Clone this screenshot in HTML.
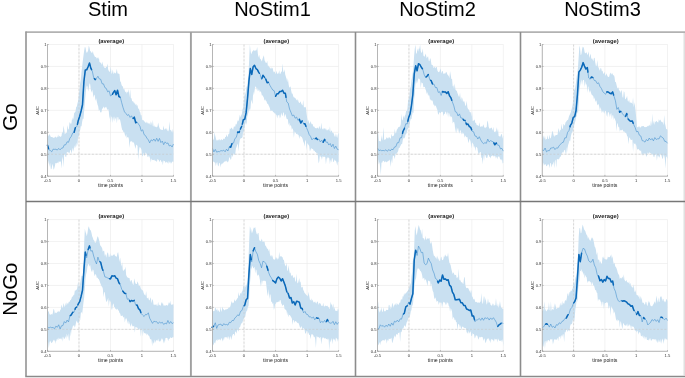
<!DOCTYPE html>
<html><head><meta charset="utf-8"><style>
html,body{margin:0;padding:0;background:#fff;}
body{width:685px;height:378px;overflow:hidden;}
svg{display:block;will-change:transform;filter:blur(0.3px);}
text{font-family:"Liberation Sans",sans-serif;}
.tl text{font-size:4.15px;fill:#333;}
.xl{font-size:5.2px;fill:#222;}
.yl{font-size:4.1px;fill:#222;}
.tt{font-size:5.8px;font-weight:bold;fill:#222;}
.ct{font-size:20px;fill:#000;}
</style></head><body>
<svg width="685" height="378" viewBox="0 0 685 378">
<rect width="685" height="378" fill="#fff"/>
<path d="M47.50 44.50V176.20M79.00 44.50V176.20M110.50 44.50V176.20M142.00 44.50V176.20M173.50 44.50V176.20M47.50 176.20H173.50M47.50 154.25H173.50M47.50 132.30H173.50M47.50 110.35H173.50M47.50 88.40H173.50M47.50 66.45H173.50M47.50 44.50H173.50" stroke="#e9e9e9" stroke-width="0.6" fill="none"/>
<polygon points="47.50,135.28 48.17,135.04 48.83,136.51 49.50,133.84 50.17,135.47 50.83,136.96 51.50,136.98 52.17,137.02 52.83,137.51 53.50,137.65 54.17,138.00 54.83,137.10 55.50,136.59 56.17,137.86 56.83,137.26 57.50,136.97 58.17,134.45 58.83,137.35 59.50,135.83 60.17,136.76 60.83,136.73 61.50,136.08 62.17,131.58 62.83,133.49 63.50,125.43 64.17,129.29 64.83,134.45 65.50,133.33 66.17,133.05 66.83,132.38 67.50,125.03 68.17,128.64 68.83,129.83 69.50,122.16 70.17,122.64 70.83,124.18 71.50,122.91 72.17,117.35 72.83,120.27 73.50,118.11 74.17,112.92 74.83,112.47 75.50,111.47 76.17,107.08 76.83,106.47 77.50,103.28 78.17,100.63 78.83,94.64 79.50,89.22 80.17,83.16 80.83,79.44 81.50,72.08 82.17,66.14 82.83,60.71 83.50,55.44 84.17,50.58 84.83,46.89 85.50,47.42 86.17,51.60 86.83,52.98 87.50,51.99 88.17,50.35 88.83,45.58 89.50,47.67 90.17,51.02 90.83,51.44 91.50,52.86 92.17,52.93 92.83,50.96 93.50,53.89 94.17,55.26 94.83,56.77 95.50,57.01 96.17,57.34 96.83,58.68 97.50,57.23 98.17,59.33 98.83,56.90 99.50,62.02 100.17,62.60 100.83,62.79 101.50,65.09 102.17,61.58 102.83,64.28 103.50,66.31 104.17,67.81 104.83,67.47 105.50,68.18 106.17,67.07 106.83,66.70 107.50,63.47 108.17,69.53 108.83,70.96 109.50,71.93 110.17,71.00 110.83,66.43 111.50,73.99 112.17,72.65 112.83,69.55 113.50,74.04 114.17,73.32 114.83,72.33 115.50,73.65 116.17,72.15 116.83,68.83 117.50,73.21 118.17,73.83 118.83,73.42 119.50,74.30 120.17,81.33 120.83,82.00 121.50,84.71 122.17,86.19 122.83,86.17 123.50,89.46 124.17,88.50 124.83,90.77 125.50,92.33 126.17,91.62 126.83,93.67 127.50,91.60 128.17,92.52 128.83,89.00 129.50,97.53 130.17,89.10 130.83,97.92 131.50,98.29 132.17,101.18 132.83,101.20 133.50,101.65 134.17,103.93 134.83,102.24 135.50,105.35 136.17,103.75 136.83,106.01 137.50,105.04 138.17,109.07 138.83,108.29 139.50,111.33 140.17,111.99 140.83,115.44 141.50,115.10 142.17,119.68 142.83,120.34 143.50,120.21 144.17,121.08 144.83,122.11 145.50,122.40 146.17,123.35 146.83,121.55 147.50,123.05 148.17,123.98 148.83,122.80 149.50,123.55 150.17,125.15 150.83,121.28 151.50,123.31 152.17,126.26 152.83,119.64 153.50,126.87 154.17,125.21 154.83,127.11 155.50,126.50 156.17,127.62 156.83,126.80 157.50,126.80 158.17,122.41 158.83,125.83 159.50,128.09 160.17,129.25 160.83,129.56 161.50,129.77 162.17,130.03 162.83,130.07 163.50,125.58 164.17,128.91 164.83,129.81 165.50,128.12 166.17,130.01 166.83,127.95 167.50,130.74 168.17,131.56 168.83,129.87 169.50,121.18 170.17,130.41 170.83,129.72 171.50,131.08 172.17,132.75 172.83,128.65 173.50,133.02 173.50,161.59 172.83,162.07 172.17,161.33 171.50,163.81 170.83,161.48 170.17,163.66 169.50,161.21 168.83,163.94 168.17,160.67 167.50,163.38 166.83,161.39 166.17,162.46 165.50,162.84 164.83,161.12 164.17,161.31 163.50,160.30 162.83,165.22 162.17,161.01 161.50,162.54 160.83,160.11 160.17,160.32 159.50,162.28 158.83,160.36 158.17,159.55 157.50,159.10 156.83,162.16 156.17,160.79 155.50,160.84 154.83,160.70 154.17,159.47 153.50,160.13 152.83,159.67 152.17,160.34 151.50,158.35 150.83,162.44 150.17,158.74 149.50,156.87 148.83,155.34 148.17,157.13 147.50,156.78 146.83,153.45 146.17,153.65 145.50,152.33 144.83,155.71 144.17,155.57 143.50,152.60 142.83,155.78 142.17,156.53 141.50,149.85 140.83,148.36 140.17,147.19 139.50,147.19 138.83,152.12 138.17,160.24 137.50,145.87 136.83,145.14 136.17,144.62 135.50,148.98 134.83,146.25 134.17,143.53 133.50,142.55 132.83,141.47 132.17,142.73 131.50,140.74 130.83,141.86 130.17,141.24 129.50,148.11 128.83,138.81 128.17,136.97 127.50,137.06 126.83,138.39 126.17,133.99 125.50,136.92 124.83,134.59 124.17,132.03 123.50,132.36 122.83,130.62 122.17,129.63 121.50,126.97 120.83,123.36 120.17,120.20 119.50,118.77 118.83,120.43 118.17,117.04 117.50,117.17 116.83,123.47 116.17,116.38 115.50,119.85 114.83,116.35 114.17,121.72 113.50,116.28 112.83,122.92 112.17,117.59 111.50,116.28 110.83,122.99 110.17,115.01 109.50,119.32 108.83,111.82 108.17,109.02 107.50,110.02 106.83,108.45 106.17,106.75 105.50,107.04 104.83,108.66 104.17,107.23 103.50,106.62 102.83,109.07 102.17,107.91 101.50,111.88 100.83,112.83 100.17,111.65 99.50,109.46 98.83,110.95 98.17,106.19 97.50,104.56 96.83,101.46 96.17,98.36 95.50,101.11 94.83,95.70 94.17,94.62 93.50,97.65 92.83,92.84 92.17,89.50 91.50,92.66 90.83,89.85 90.17,84.20 89.50,83.30 88.83,87.98 88.17,91.77 87.50,86.71 86.83,85.38 86.17,88.46 85.50,95.41 84.83,102.38 84.17,110.81 83.50,119.08 82.83,118.47 82.17,121.84 81.50,126.38 80.83,126.09 80.17,130.37 79.50,131.28 78.83,137.42 78.17,135.67 77.50,143.49 76.83,146.85 76.17,142.46 75.50,146.83 74.83,148.14 74.17,145.26 73.50,152.03 72.83,147.82 72.17,150.44 71.50,153.99 70.83,149.82 70.17,150.62 69.50,153.65 68.83,151.83 68.17,153.32 67.50,151.74 66.83,152.21 66.17,157.17 65.50,156.68 64.83,153.97 64.17,154.89 63.50,167.50 62.83,156.45 62.17,159.81 61.50,168.45 60.83,161.30 60.17,161.87 59.50,161.83 58.83,161.24 58.17,163.41 57.50,162.16 56.83,163.40 56.17,162.90 55.50,163.02 54.83,166.27 54.17,168.79 53.50,169.72 52.83,163.72 52.17,165.73 51.50,168.89 50.83,169.33 50.17,162.82 49.50,166.91 48.83,160.18 48.17,164.24 47.50,157.91" fill="#c9e0f1"/>
<path d="M79.00 44.50V176.20M47.50 154.25H173.50" stroke="#c6c6c6" stroke-width="0.6" stroke-dasharray="2 1.7" fill="none"/>
<path d="M47.50 145.19 L48.90 149.69 L50.30 150.46 L51.70 151.82 L53.10 149.15 L54.50 149.37 L55.90 149.28 L57.30 150.09 L58.70 148.43 L60.10 149.83 L61.50 148.19 L62.90 147.98 L64.30 144.85 L65.70 144.84 L67.10 141.76 L68.50 142.28 L69.90 138.16 L71.30 136.41 L72.70 132.90 L74.10 132.40 L75.50 127.08 L76.90 126.64 L78.30 120.43 L79.70 116.31 L81.10 110.99 L82.50 104.75 L83.90 81.76 L85.30 69.90 L86.70 69.87 L88.10 66.68 L89.50 62.95 L90.90 68.33 L92.30 71.08 L93.70 77.74 L95.10 79.62 L96.50 78.42 L97.90 76.22 L99.30 78.94 L100.70 79.31 L102.10 83.77 L103.50 83.90 L104.90 87.63 L106.30 88.50 L107.70 91.90 L109.10 90.79 L110.50 96.00 L111.90 95.15 L113.30 92.64 L114.70 90.61 L116.10 94.83 L117.50 90.27 L118.90 96.53 L120.30 97.26 L121.70 102.68 L123.10 107.76 L124.50 111.84 L125.90 113.41 L127.30 115.37 L128.70 114.63 L130.10 117.40 L131.50 115.80 L132.90 118.80 L134.30 117.15 L135.70 122.73 L137.10 121.98 L138.50 124.16 L139.90 126.08 L141.30 131.12 L142.70 129.79 L144.10 134.62 L145.50 135.65 L146.90 138.13 L148.30 139.87 L149.70 142.90 L151.10 139.84 L152.50 140.87 L153.90 139.01 L155.30 141.28 L156.70 138.28 L158.10 141.39 L159.50 138.42 L160.90 142.58 L162.30 141.14 L163.70 144.67 L165.10 141.82 L166.50 143.44 L167.90 142.94 L169.30 146.01 L170.70 145.23 L172.10 147.04 L173.50 143.99" stroke="#3d8ccc" stroke-width="0.55" fill="none" stroke-linejoin="round"/>
<path d="M47.37 145.19 L47.50 145.19 L48.57 148.64" stroke="#0a68b8" stroke-width="1.5" fill="none" stroke-linejoin="round" stroke-linecap="round"/>
<path d="M74.15 132.22 L75.35 127.66" stroke="#0a68b8" stroke-width="1.5" fill="none" stroke-linejoin="round" stroke-linecap="round"/>
<path d="M77.42 124.31 L78.30 120.43 L79.70 116.31 L81.10 110.99 L82.50 104.75 L83.90 81.76 L85.30 69.90 L86.70 69.87 L88.10 66.68 L89.50 62.95 L90.90 68.33 L91.60 69.70" stroke="#0a68b8" stroke-width="1.5" fill="none" stroke-linejoin="round" stroke-linecap="round"/>
<path d="M94.37 78.64 L95.10 79.62 L95.57 79.22" stroke="#0a68b8" stroke-width="1.5" fill="none" stroke-linejoin="round" stroke-linecap="round"/>
<path d="M112.39 94.27 L113.30 92.64 L114.70 90.61 L116.10 94.83 L117.50 90.27 L118.90 96.53 L119.95 97.08" stroke="#0a68b8" stroke-width="1.5" fill="none" stroke-linejoin="round" stroke-linecap="round"/>
<path d="M133.18 118.47 L134.30 117.15 L135.70 122.73 L136.33 122.39" stroke="#0a68b8" stroke-width="1.5" fill="none" stroke-linejoin="round" stroke-linecap="round"/>
<path d="M47.50 44.20V176.20H173.80" stroke="#a6a6a6" stroke-width="0.8" fill="none"/>
<path d="M47.50 176.20v-1.3M79.00 176.20v-1.3M110.50 176.20v-1.3M142.00 176.20v-1.3M173.50 176.20v-1.3M47.50 176.20h1.3M47.50 154.25h1.3M47.50 132.30h1.3M47.50 110.35h1.3M47.50 88.40h1.3M47.50 66.45h1.3M47.50 44.50h1.3" stroke="#888" stroke-width="0.5" fill="none"/>
<g class="tl"><text x="46.60" y="177.70" text-anchor="end">0.4</text><text x="46.60" y="155.75" text-anchor="end">0.5</text><text x="46.60" y="133.80" text-anchor="end">0.6</text><text x="46.60" y="111.85" text-anchor="end">0.7</text><text x="46.60" y="89.90" text-anchor="end">0.8</text><text x="46.60" y="67.95" text-anchor="end">0.9</text><text x="46.60" y="46.00" text-anchor="end">1</text><text x="47.50" y="181.80" text-anchor="middle">-0.5</text><text x="79.00" y="181.80" text-anchor="middle">0</text><text x="110.50" y="181.80" text-anchor="middle">0.5</text><text x="142.00" y="181.80" text-anchor="middle">1</text><text x="173.50" y="181.80" text-anchor="middle">1.5</text></g>
<text class="xl" x="110.50" y="186.50" text-anchor="middle">time points</text>
<text class="yl" transform="translate(39.30 110.35) rotate(-90)" text-anchor="middle">AUC</text>
<text class="tt" x="111.30" y="43.20" text-anchor="middle">(average)</text>
<path d="M212.50 44.50V176.20M244.03 44.50V176.20M275.55 44.50V176.20M307.07 44.50V176.20M338.60 44.50V176.20M212.50 176.20H338.60M212.50 154.25H338.60M212.50 132.30H338.60M212.50 110.35H338.60M212.50 88.40H338.60M212.50 66.45H338.60M212.50 44.50H338.60" stroke="#e9e9e9" stroke-width="0.6" fill="none"/>
<polygon points="212.50,140.19 213.17,139.71 213.83,139.22 214.50,132.30 215.17,135.57 215.84,138.37 216.50,140.84 217.17,139.71 217.84,140.79 218.50,140.10 219.17,138.76 219.84,140.43 220.51,140.29 221.17,139.03 221.84,139.82 222.51,140.29 223.18,139.11 223.84,138.61 224.51,139.22 225.18,137.08 225.84,136.89 226.51,134.22 227.18,137.04 227.85,136.22 228.51,133.87 229.18,133.94 229.85,128.23 230.51,129.20 231.18,127.82 231.85,127.79 232.52,129.20 233.18,129.84 233.85,126.44 234.52,126.57 235.18,126.72 235.85,123.82 236.52,124.77 237.19,122.10 237.85,120.22 238.52,121.29 239.19,118.21 239.86,114.48 240.52,117.39 241.19,115.37 241.86,114.09 242.52,109.35 243.19,107.69 243.86,100.98 244.53,95.10 245.19,94.61 245.86,91.38 246.53,86.41 247.19,86.51 247.86,80.09 248.53,73.50 249.20,59.24 249.86,44.50 250.53,50.73 251.20,54.48 251.86,52.43 252.53,51.28 253.20,50.77 253.87,49.81 254.53,50.99 255.20,50.33 255.87,50.77 256.53,50.08 257.20,46.95 257.87,53.65 258.54,57.68 259.20,54.70 259.87,58.61 260.54,58.89 261.21,60.23 261.87,61.58 262.54,58.67 263.21,56.97 263.87,55.17 264.54,60.28 265.21,61.47 265.88,63.06 266.54,63.11 267.21,60.73 267.88,66.02 268.54,65.47 269.21,67.69 269.88,66.72 270.55,69.12 271.21,67.28 271.88,68.91 272.55,67.46 273.21,70.72 273.88,72.41 274.55,71.32 275.22,73.30 275.88,74.00 276.55,70.58 277.22,73.70 277.89,73.86 278.55,73.24 279.22,70.29 279.89,74.19 280.55,73.57 281.22,71.53 281.89,71.63 282.56,63.50 283.22,71.21 283.89,72.62 284.56,69.28 285.22,74.39 285.89,76.67 286.56,78.73 287.23,82.22 287.89,78.17 288.56,84.11 289.23,87.55 289.89,87.22 290.56,86.15 291.23,90.91 291.90,93.68 292.56,93.56 293.23,96.28 293.90,97.44 294.57,97.50 295.23,98.01 295.90,99.08 296.57,100.09 297.23,100.83 297.90,98.88 298.57,102.01 299.24,102.91 299.90,102.75 300.57,101.15 301.24,103.42 301.90,104.63 302.57,105.49 303.24,100.11 303.91,107.44 304.57,107.33 305.24,106.75 305.91,107.81 306.57,113.76 307.24,118.15 307.91,122.84 308.58,119.60 309.24,123.42 309.91,123.38 310.58,120.89 311.24,123.36 311.91,124.54 312.58,123.66 313.25,126.95 313.91,125.94 314.58,127.28 315.25,128.27 315.92,128.11 316.58,128.44 317.25,127.52 317.92,127.89 318.58,129.09 319.25,125.66 319.92,127.69 320.59,129.19 321.25,122.54 321.92,128.07 322.59,129.35 323.25,129.40 323.92,127.70 324.59,128.62 325.26,129.79 325.92,128.12 326.59,130.31 327.26,130.57 327.92,129.50 328.59,129.32 329.26,131.23 329.93,126.18 330.59,132.61 331.26,130.15 331.93,131.28 332.60,133.03 333.26,132.71 333.93,134.10 334.60,136.50 335.26,136.77 335.93,133.26 336.60,136.50 337.27,138.04 337.93,134.34 338.60,132.79 338.60,162.18 337.93,161.61 337.27,165.75 336.60,162.63 335.93,160.38 335.26,160.96 334.60,159.30 333.93,161.75 333.26,162.04 332.60,158.32 331.93,158.14 331.26,162.46 330.59,159.18 329.93,164.36 329.26,158.26 328.59,157.30 327.92,158.87 327.26,157.04 326.59,159.04 325.92,164.44 325.26,157.30 324.59,156.51 323.92,157.35 323.25,156.52 322.59,156.25 321.92,159.77 321.25,156.92 320.59,156.64 319.92,155.03 319.25,161.21 318.58,163.59 317.92,155.94 317.25,152.81 316.58,153.60 315.92,151.92 315.25,152.26 314.58,150.42 313.91,151.33 313.25,149.44 312.58,148.75 311.91,149.30 311.24,147.67 310.58,149.78 309.91,151.44 309.24,146.28 308.58,144.63 307.91,144.21 307.24,142.72 306.57,150.56 305.91,141.52 305.24,139.68 304.57,146.48 303.91,143.06 303.24,141.57 302.57,138.77 301.90,137.27 301.24,136.82 300.57,136.35 299.90,135.88 299.24,138.93 298.57,134.68 297.90,135.03 297.23,133.53 296.57,134.27 295.90,133.30 295.23,132.12 294.57,131.52 293.90,138.06 293.23,130.35 292.56,127.90 291.90,130.09 291.23,126.33 290.56,124.72 289.89,126.78 289.23,122.50 288.56,125.15 287.89,119.61 287.23,118.93 286.56,118.85 285.89,115.69 285.22,113.68 284.56,117.45 283.89,113.32 283.22,112.02 282.56,116.21 281.89,115.07 281.22,112.51 280.55,116.70 279.89,118.41 279.22,114.53 278.55,115.61 277.89,114.95 277.22,118.45 276.55,114.95 275.88,114.62 275.22,113.31 274.55,113.51 273.88,112.08 273.21,112.51 272.55,110.64 271.88,110.70 271.21,110.61 270.55,111.26 269.88,108.33 269.21,106.51 268.54,105.17 267.88,103.61 267.21,104.05 266.54,101.15 265.88,100.97 265.21,99.16 264.54,100.71 263.87,97.79 263.21,96.46 262.54,95.24 261.87,95.52 261.21,92.58 260.54,91.03 259.87,92.60 259.20,89.40 258.54,91.35 257.87,87.77 257.20,91.55 256.53,88.53 255.87,86.39 255.20,86.71 254.53,90.70 253.87,95.54 253.20,91.32 252.53,104.14 251.86,101.75 251.20,99.55 250.53,107.93 249.86,110.76 249.20,108.75 248.53,111.69 247.86,114.38 247.19,117.08 246.53,125.00 245.86,122.03 245.19,124.21 244.53,127.12 243.86,133.24 243.19,130.53 242.52,137.07 241.86,138.32 241.19,138.12 240.52,138.42 239.86,139.87 239.19,143.47 238.52,151.61 237.85,143.60 237.19,144.97 236.52,146.88 235.85,148.63 235.18,154.66 234.52,154.74 233.85,153.24 233.18,154.77 232.52,157.17 231.85,154.28 231.18,159.14 230.51,159.79 229.85,157.29 229.18,157.73 228.51,161.52 227.85,161.51 227.18,162.41 226.51,160.78 225.84,160.68 225.18,161.71 224.51,161.51 223.84,162.09 223.18,163.19 222.51,163.17 221.84,164.78 221.17,163.28 220.51,167.54 219.84,162.68 219.17,163.14 218.50,166.51 217.84,165.61 217.17,162.02 216.50,162.89 215.84,166.28 215.17,162.50 214.50,162.46 213.83,161.84 213.17,161.55 212.50,164.00" fill="#c9e0f1"/>
<path d="M244.03 44.50V176.20M212.50 154.25H338.60" stroke="#c6c6c6" stroke-width="0.6" stroke-dasharray="2 1.7" fill="none"/>
<path d="M212.50 148.33 L213.90 151.91 L215.30 149.41 L216.70 152.18 L218.10 151.50 L219.51 151.69 L220.91 150.59 L222.31 150.91 L223.71 150.16 L225.11 151.77 L226.51 149.19 L227.91 151.03 L229.31 146.77 L230.71 147.20 L232.12 143.20 L233.52 143.09 L234.92 138.54 L236.32 137.38 L237.72 132.03 L239.12 132.44 L240.52 128.73 L241.92 125.85 L243.32 119.73 L244.73 119.26 L246.13 112.66 L247.53 98.36 L248.93 81.15 L250.33 68.58 L251.73 74.44 L253.13 66.86 L254.53 65.23 L255.93 68.58 L257.34 69.57 L258.74 72.31 L260.14 74.40 L261.54 79.59 L262.94 75.20 L264.34 77.11 L265.74 79.09 L267.14 82.72 L268.54 82.31 L269.95 85.41 L271.35 87.83 L272.75 90.06 L274.15 90.71 L275.55 96.31 L276.95 93.75 L278.35 93.66 L279.75 91.51 L281.15 91.45 L282.56 90.26 L283.96 93.17 L285.36 93.25 L286.76 101.82 L288.16 103.05 L289.56 109.02 L290.96 112.39 L292.36 115.90 L293.76 115.00 L295.17 118.24 L296.57 117.06 L297.97 120.49 L299.37 119.29 L300.77 122.97 L302.17 120.84 L303.57 123.54 L304.97 123.85 L306.37 127.38 L307.78 130.63 L309.18 134.59 L310.58 136.48 L311.98 139.81 L313.38 138.32 L314.78 139.02 L316.18 138.01 L317.58 139.67 L318.98 139.14 L320.39 141.96 L321.79 140.17 L323.19 142.26 L324.59 139.39 L325.99 142.24 L327.39 141.98 L328.79 145.03 L330.19 143.51 L331.59 146.84 L333.00 144.20 L334.40 148.51 L335.80 146.15 L337.20 149.21 L338.60 149.69" stroke="#3d8ccc" stroke-width="0.55" fill="none" stroke-linejoin="round"/>
<path d="M229.96 146.97 L230.71 147.20 L231.92 143.76" stroke="#0a68b8" stroke-width="1.5" fill="none" stroke-linejoin="round" stroke-linecap="round"/>
<path d="M237.59 132.51 L237.72 132.03 L239.12 132.44 L239.49 131.48" stroke="#0a68b8" stroke-width="1.5" fill="none" stroke-linejoin="round" stroke-linecap="round"/>
<path d="M240.40 129.06 L240.52 128.73 L241.60 126.52" stroke="#0a68b8" stroke-width="1.5" fill="none" stroke-linejoin="round" stroke-linecap="round"/>
<path d="M242.32 124.11 L243.32 119.73 L244.73 119.26 L246.13 112.66 L247.53 98.36 L248.93 81.15 L250.33 68.58 L251.73 74.44 L253.13 66.86 L254.53 65.23 L255.93 68.58 L257.34 69.57 L258.74 72.31 L259.41 73.31" stroke="#0a68b8" stroke-width="1.5" fill="none" stroke-linejoin="round" stroke-linecap="round"/>
<path d="M261.93 78.36 L262.94 75.20 L264.34 77.11 L264.58 77.44" stroke="#0a68b8" stroke-width="1.5" fill="none" stroke-linejoin="round" stroke-linecap="round"/>
<path d="M265.71 79.05 L265.74 79.09 L267.14 82.72 L268.36 82.36" stroke="#0a68b8" stroke-width="1.5" fill="none" stroke-linejoin="round" stroke-linecap="round"/>
<path d="M275.55 96.31 L276.95 93.75 L278.35 93.66 L279.75 91.51 L281.15 91.45 L282.56 90.26 L283.96 93.17 L285.36 93.25 L286.02 97.28" stroke="#0a68b8" stroke-width="1.5" fill="none" stroke-linejoin="round" stroke-linecap="round"/>
<path d="M299.32 119.33 L299.37 119.29 L300.77 122.97 L302.16 120.87" stroke="#0a68b8" stroke-width="1.5" fill="none" stroke-linejoin="round" stroke-linecap="round"/>
<path d="M304.05 123.65 L304.97 123.85 L305.94 126.28" stroke="#0a68b8" stroke-width="1.5" fill="none" stroke-linejoin="round" stroke-linecap="round"/>
<path d="M315.46 138.53 L316.18 138.01 L317.35 139.40" stroke="#0a68b8" stroke-width="1.5" fill="none" stroke-linejoin="round" stroke-linecap="round"/>
<path d="M323.09 142.11 L323.19 142.26 L324.59 139.39 L324.98 140.18" stroke="#0a68b8" stroke-width="1.5" fill="none" stroke-linejoin="round" stroke-linecap="round"/>
<path d="M212.50 44.20V176.20H338.90" stroke="#a6a6a6" stroke-width="0.8" fill="none"/>
<path d="M212.50 176.20v-1.3M244.03 176.20v-1.3M275.55 176.20v-1.3M307.07 176.20v-1.3M338.60 176.20v-1.3M212.50 176.20h1.3M212.50 154.25h1.3M212.50 132.30h1.3M212.50 110.35h1.3M212.50 88.40h1.3M212.50 66.45h1.3M212.50 44.50h1.3" stroke="#888" stroke-width="0.5" fill="none"/>
<g class="tl"><text x="211.60" y="177.70" text-anchor="end">0.4</text><text x="211.60" y="155.75" text-anchor="end">0.5</text><text x="211.60" y="133.80" text-anchor="end">0.6</text><text x="211.60" y="111.85" text-anchor="end">0.7</text><text x="211.60" y="89.90" text-anchor="end">0.8</text><text x="211.60" y="67.95" text-anchor="end">0.9</text><text x="211.60" y="46.00" text-anchor="end">1</text><text x="212.50" y="181.80" text-anchor="middle">-0.5</text><text x="244.03" y="181.80" text-anchor="middle">0</text><text x="275.55" y="181.80" text-anchor="middle">0.5</text><text x="307.07" y="181.80" text-anchor="middle">1</text><text x="338.60" y="181.80" text-anchor="middle">1.5</text></g>
<text class="xl" x="275.55" y="186.50" text-anchor="middle">time points</text>
<text class="yl" transform="translate(204.30 110.35) rotate(-90)" text-anchor="middle">AUC</text>
<text class="tt" x="276.35" y="43.20" text-anchor="middle">(average)</text>
<path d="M377.50 44.50V176.20M408.95 44.50V176.20M440.40 44.50V176.20M471.85 44.50V176.20M503.30 44.50V176.20M377.50 176.20H503.30M377.50 154.25H503.30M377.50 132.30H503.30M377.50 110.35H503.30M377.50 88.40H503.30M377.50 66.45H503.30M377.50 44.50H503.30" stroke="#e9e9e9" stroke-width="0.6" fill="none"/>
<polygon points="377.50,134.77 378.17,132.41 378.83,141.21 379.50,141.12 380.16,141.31 380.83,141.47 381.49,134.96 382.16,140.83 382.82,137.03 383.49,126.91 384.16,140.02 384.82,139.60 385.49,139.54 386.15,138.46 386.82,137.06 387.48,138.75 388.15,137.01 388.82,138.73 389.48,136.74 390.15,138.48 390.81,138.52 391.48,133.82 392.14,136.56 392.81,136.00 393.47,135.97 394.14,134.60 394.81,128.80 395.47,133.59 396.14,132.64 396.80,129.67 397.47,129.06 398.13,127.44 398.80,127.08 399.47,126.75 400.13,126.47 400.80,124.11 401.46,113.49 402.13,120.63 402.79,119.50 403.46,115.23 404.12,118.18 404.79,115.64 405.46,114.68 406.12,110.83 406.79,111.31 407.45,108.57 408.12,100.50 408.78,98.42 409.45,95.31 410.11,88.51 410.78,86.56 411.45,80.41 412.11,77.04 412.78,72.68 413.44,66.07 414.11,56.07 414.77,48.70 415.44,44.50 416.11,53.53 416.77,53.42 417.44,48.28 418.10,51.73 418.77,48.44 419.43,48.76 420.10,44.50 420.76,50.99 421.43,52.96 422.10,52.23 422.76,48.58 423.43,55.57 424.09,56.60 424.76,56.48 425.42,53.51 426.09,55.54 426.76,58.44 427.42,57.02 428.09,56.31 428.75,60.65 429.42,61.14 430.08,57.95 430.75,59.45 431.41,64.21 432.08,65.38 432.75,64.80 433.41,67.72 434.08,67.71 434.74,66.62 435.41,68.43 436.07,66.94 436.74,67.08 437.40,70.51 438.07,71.63 438.74,72.25 439.40,71.86 440.07,70.05 440.73,68.42 441.40,73.86 442.06,71.21 442.73,70.93 443.40,73.88 444.06,73.55 444.73,73.44 445.39,73.38 446.06,71.84 446.72,72.45 447.39,74.54 448.05,75.25 448.72,76.04 449.39,78.30 450.05,71.02 450.72,74.94 451.38,79.36 452.05,78.70 452.71,86.53 453.38,85.17 454.04,89.18 454.71,83.34 455.38,89.18 456.04,90.55 456.71,90.69 457.37,92.84 458.04,94.40 458.70,96.56 459.37,96.87 460.04,92.46 460.70,99.84 461.37,96.78 462.03,101.73 462.70,97.49 463.36,102.14 464.03,100.84 464.69,102.77 465.36,105.92 466.03,105.28 466.69,100.68 467.36,107.36 468.02,108.99 468.69,109.49 469.35,111.09 470.02,112.43 470.69,111.66 471.35,116.81 472.02,110.81 472.68,121.07 473.35,121.07 474.01,119.82 474.68,119.86 475.34,123.12 476.01,122.87 476.68,125.17 477.34,125.08 478.01,125.76 478.67,126.07 479.34,122.30 480.00,126.16 480.67,127.10 481.33,125.97 482.00,127.12 482.67,126.33 483.33,124.31 484.00,126.42 484.66,127.70 485.33,128.24 485.99,126.83 486.66,127.41 487.33,120.57 487.99,121.99 488.66,127.08 489.32,128.20 489.99,129.08 490.65,127.91 491.32,127.54 491.98,128.13 492.65,130.81 493.32,126.81 493.98,131.48 494.65,132.14 495.31,131.10 495.98,132.42 496.64,126.88 497.31,132.35 497.98,128.13 498.64,135.96 499.31,136.05 499.97,136.88 500.64,136.07 501.30,133.65 501.97,134.74 502.63,138.83 503.30,134.68 503.30,162.68 502.63,163.55 501.97,158.87 501.30,160.61 500.64,159.42 499.97,158.73 499.31,156.44 498.64,156.69 497.98,156.18 497.31,159.62 496.64,156.14 495.98,158.72 495.31,156.23 494.65,155.59 493.98,157.12 493.32,155.74 492.65,155.52 491.98,155.87 491.32,155.98 490.65,158.39 489.99,156.38 489.32,156.88 488.66,154.58 487.99,154.76 487.33,157.76 486.66,158.02 485.99,157.34 485.33,154.72 484.66,154.61 484.00,161.24 483.33,154.46 482.67,164.53 482.00,158.26 481.33,157.54 480.67,151.97 480.00,152.11 479.34,153.55 478.67,154.45 478.01,152.04 477.34,148.06 476.68,147.29 476.01,146.80 475.34,151.25 474.68,145.77 474.01,147.89 473.35,144.24 472.68,143.18 472.02,142.27 471.35,148.52 470.69,141.97 470.02,139.85 469.35,138.92 468.69,143.32 468.02,140.65 467.36,137.06 466.69,137.14 466.03,137.05 465.36,135.30 464.69,137.87 464.03,134.44 463.36,132.88 462.70,134.04 462.03,131.70 461.37,134.69 460.70,130.20 460.04,130.38 459.37,133.83 458.70,131.51 458.04,127.79 457.37,129.33 456.71,133.60 456.04,126.61 455.38,132.88 454.71,124.43 454.04,121.74 453.38,122.01 452.71,123.46 452.05,117.60 451.38,116.86 450.72,115.64 450.05,117.47 449.39,113.67 448.72,112.50 448.05,117.58 447.39,111.35 446.72,114.91 446.06,111.89 445.39,111.39 444.73,114.35 444.06,113.68 443.40,116.32 442.73,111.84 442.06,111.78 441.40,111.71 440.73,112.98 440.07,113.37 439.40,111.81 438.74,114.32 438.07,114.40 437.40,109.93 436.74,108.47 436.07,106.39 435.41,105.24 434.74,106.38 434.08,104.50 433.41,104.72 432.75,101.19 432.08,100.22 431.41,100.64 430.75,98.93 430.08,100.40 429.42,95.92 428.75,94.22 428.09,96.37 427.42,92.05 426.76,94.12 426.09,90.87 425.42,89.36 424.76,86.82 424.09,87.03 423.43,87.29 422.76,83.19 422.10,83.10 421.43,82.37 420.76,88.37 420.10,79.69 419.43,79.03 418.77,78.22 418.10,79.18 417.44,82.10 416.77,83.66 416.11,80.20 415.44,84.20 414.77,93.31 414.11,99.38 413.44,113.17 412.78,111.97 412.11,115.26 411.45,119.27 410.78,118.64 410.11,121.33 409.45,125.81 408.78,126.68 408.12,128.51 407.45,129.45 406.79,132.46 406.12,134.25 405.46,134.57 404.79,138.68 404.12,137.35 403.46,138.32 402.79,140.04 402.13,143.93 401.46,144.05 400.80,145.27 400.13,146.42 399.47,147.95 398.80,148.05 398.13,151.33 397.47,152.29 396.80,153.88 396.14,153.22 395.47,154.14 394.81,159.31 394.14,156.60 393.47,155.41 392.81,156.21 392.14,163.46 391.48,158.40 390.81,166.88 390.15,161.65 389.48,159.60 388.82,160.46 388.15,161.33 387.48,161.50 386.82,161.68 386.15,162.44 385.49,160.98 384.82,162.52 384.16,161.62 383.49,160.68 382.82,161.08 382.16,162.69 381.49,162.49 380.83,175.01 380.16,167.21 379.50,161.77 378.83,164.50 378.17,159.30 377.50,164.08" fill="#c9e0f1"/>
<path d="M408.95 44.50V176.20M377.50 154.25H503.30" stroke="#c6c6c6" stroke-width="0.6" stroke-dasharray="2 1.7" fill="none"/>
<path d="M377.50 148.09 L378.91 150.62 L380.33 150.09 L381.74 150.71 L383.15 150.45 L384.57 150.76 L385.98 149.72 L387.39 151.35 L388.81 149.51 L390.22 150.93 L391.63 149.10 L393.05 149.75 L394.46 147.02 L395.88 146.63 L397.29 142.74 L398.70 142.62 L400.12 137.78 L401.53 137.80 L402.94 131.49 L404.36 128.56 L405.77 123.69 L407.18 124.00 L408.60 117.86 L410.01 114.03 L411.42 105.84 L412.84 94.53 L414.25 73.94 L415.66 65.82 L417.08 70.88 L418.49 63.73 L419.90 64.69 L421.32 67.25 L422.73 69.24 L424.14 74.45 L425.56 77.45 L426.97 76.27 L428.39 74.50 L429.80 79.83 L431.21 80.71 L432.63 84.27 L434.04 84.18 L435.45 87.66 L436.87 87.55 L438.28 92.41 L439.69 91.75 L441.11 95.53 L442.52 91.53 L443.93 92.07 L445.35 91.88 L446.76 93.41 L448.17 91.70 L449.59 95.91 L451.00 97.93 L452.41 102.04 L453.83 105.86 L455.24 111.67 L456.66 112.31 L458.07 115.98 L459.48 113.89 L460.90 118.09 L462.31 118.01 L463.72 120.20 L465.14 120.51 L466.55 124.44 L467.96 124.09 L469.38 126.62 L470.79 127.42 L472.20 131.32 L473.62 131.80 L475.03 136.10 L476.44 136.34 L477.86 139.02 L479.27 136.69 L480.68 139.80 L482.10 142.15 L483.51 143.74 L484.92 142.63 L486.34 143.31 L487.75 139.10 L489.17 141.95 L490.58 140.61 L491.99 141.37 L493.41 141.90 L494.82 144.82 L496.23 142.92 L497.65 145.18 L499.06 145.23 L500.47 148.92 L501.89 148.37 L503.30 151.14" stroke="#3d8ccc" stroke-width="0.55" fill="none" stroke-linejoin="round"/>
<path d="M402.53 133.31 L402.94 131.49 L404.36 128.56 L404.42 128.34" stroke="#0a68b8" stroke-width="1.5" fill="none" stroke-linejoin="round" stroke-linecap="round"/>
<path d="M407.82 121.24 L408.60 117.86 L410.01 114.03 L411.42 105.84 L412.84 94.53 L414.25 73.94 L415.66 65.82 L417.08 70.88 L418.49 63.73 L419.90 64.69 L421.32 67.25 L422.41 68.79" stroke="#0a68b8" stroke-width="1.5" fill="none" stroke-linejoin="round" stroke-linecap="round"/>
<path d="M426.18 76.93 L426.97 76.27 L428.32 74.58" stroke="#0a68b8" stroke-width="1.5" fill="none" stroke-linejoin="round" stroke-linecap="round"/>
<path d="M430.59 80.32 L431.21 80.71 L432.47 83.88" stroke="#0a68b8" stroke-width="1.5" fill="none" stroke-linejoin="round" stroke-linecap="round"/>
<path d="M442.35 92.01 L442.52 91.53 L443.93 92.07 L445.35 91.88 L446.76 93.41 L448.17 91.70 L449.59 95.91 L451.00 97.93 L451.78 100.21" stroke="#0a68b8" stroke-width="1.5" fill="none" stroke-linejoin="round" stroke-linecap="round"/>
<path d="M463.17 119.35 L463.72 120.20 L465.06 120.49" stroke="#0a68b8" stroke-width="1.5" fill="none" stroke-linejoin="round" stroke-linecap="round"/>
<path d="M466.00 122.91 L466.55 124.44 L467.96 124.09 L469.38 126.62 L470.79 127.42 L471.66 129.82" stroke="#0a68b8" stroke-width="1.5" fill="none" stroke-linejoin="round" stroke-linecap="round"/>
<path d="M493.87 142.85 L494.82 144.82 L496.23 142.92 L496.51 143.36" stroke="#0a68b8" stroke-width="1.5" fill="none" stroke-linejoin="round" stroke-linecap="round"/>
<path d="M377.50 44.20V176.20H503.60" stroke="#a6a6a6" stroke-width="0.8" fill="none"/>
<path d="M377.50 176.20v-1.3M408.95 176.20v-1.3M440.40 176.20v-1.3M471.85 176.20v-1.3M503.30 176.20v-1.3M377.50 176.20h1.3M377.50 154.25h1.3M377.50 132.30h1.3M377.50 110.35h1.3M377.50 88.40h1.3M377.50 66.45h1.3M377.50 44.50h1.3" stroke="#888" stroke-width="0.5" fill="none"/>
<g class="tl"><text x="376.60" y="177.70" text-anchor="end">0.4</text><text x="376.60" y="155.75" text-anchor="end">0.5</text><text x="376.60" y="133.80" text-anchor="end">0.6</text><text x="376.60" y="111.85" text-anchor="end">0.7</text><text x="376.60" y="89.90" text-anchor="end">0.8</text><text x="376.60" y="67.95" text-anchor="end">0.9</text><text x="376.60" y="46.00" text-anchor="end">1</text><text x="377.50" y="181.80" text-anchor="middle">-0.5</text><text x="408.95" y="181.80" text-anchor="middle">0</text><text x="440.40" y="181.80" text-anchor="middle">0.5</text><text x="471.85" y="181.80" text-anchor="middle">1</text><text x="503.30" y="181.80" text-anchor="middle">1.5</text></g>
<text class="xl" x="440.40" y="186.50" text-anchor="middle">time points</text>
<text class="yl" transform="translate(369.30 110.35) rotate(-90)" text-anchor="middle">AUC</text>
<text class="tt" x="441.20" y="43.20" text-anchor="middle">(average)</text>
<path d="M542.30 44.50V176.20M573.60 44.50V176.20M604.90 44.50V176.20M636.20 44.50V176.20M667.50 44.50V176.20M542.30 176.20H667.50M542.30 154.25H667.50M542.30 132.30H667.50M542.30 110.35H667.50M542.30 88.40H667.50M542.30 66.45H667.50M542.30 44.50H667.50" stroke="#e9e9e9" stroke-width="0.6" fill="none"/>
<polygon points="542.30,138.15 542.96,139.48 543.62,135.16 544.29,139.09 544.95,135.60 545.61,140.12 546.27,138.82 546.94,139.61 547.60,134.98 548.26,139.09 548.92,138.94 549.59,134.61 550.25,138.49 550.91,137.91 551.57,134.49 552.24,130.82 552.90,132.10 553.56,135.10 554.22,136.92 554.89,135.15 555.55,135.46 556.21,134.91 556.87,134.96 557.54,134.75 558.20,130.13 558.86,127.97 559.52,132.85 560.19,130.16 560.85,129.68 561.51,123.47 562.17,129.08 562.84,128.48 563.50,123.80 564.16,124.65 564.82,125.67 565.49,122.57 566.15,121.72 566.81,120.65 567.47,120.01 568.13,119.85 568.80,117.06 569.46,115.20 570.12,114.00 570.78,112.27 571.45,109.72 572.11,107.60 572.77,103.97 573.43,96.70 574.10,88.89 574.76,90.33 575.42,86.42 576.08,81.71 576.75,75.96 577.41,73.18 578.07,66.29 578.73,56.09 579.40,45.57 580.06,48.32 580.72,55.28 581.38,54.14 582.05,49.22 582.71,46.66 583.37,46.97 584.03,48.87 584.70,52.51 585.36,53.42 586.02,52.47 586.68,52.58 587.35,54.92 588.01,54.11 588.67,51.14 589.33,58.10 590.00,55.81 590.66,53.50 591.32,59.35 591.98,57.97 592.64,59.39 593.31,61.46 593.97,57.74 594.63,57.91 595.29,62.81 595.96,66.09 596.62,65.70 597.28,60.00 597.94,66.85 598.61,67.59 599.27,69.46 599.93,70.64 600.59,67.79 601.26,68.44 601.92,71.43 602.58,70.55 603.24,73.97 603.91,73.16 604.57,71.85 605.23,75.27 605.89,75.59 606.56,73.37 607.22,75.59 607.88,76.76 608.54,77.05 609.21,76.74 609.87,73.83 610.53,72.55 611.19,74.83 611.86,73.22 612.52,73.58 613.18,75.68 613.84,74.75 614.51,76.96 615.17,82.16 615.83,81.71 616.49,84.69 617.16,87.48 617.82,88.55 618.48,87.27 619.14,91.43 619.80,89.73 620.47,93.29 621.13,89.95 621.79,91.16 622.45,96.76 623.12,97.89 623.78,91.30 624.44,92.20 625.10,99.53 625.77,98.86 626.43,97.77 627.09,95.78 627.75,101.00 628.42,101.65 629.08,99.39 629.74,102.76 630.40,102.27 631.07,103.33 631.73,102.46 632.39,104.24 633.05,97.26 633.72,107.43 634.38,102.17 635.04,106.81 635.70,112.10 636.37,118.93 637.03,127.01 637.69,127.19 638.35,127.29 639.02,125.71 639.68,127.32 640.34,127.79 641.00,126.80 641.67,126.19 642.33,126.23 642.99,125.88 643.65,125.92 644.31,127.20 644.98,126.75 645.64,127.14 646.30,126.95 646.96,126.63 647.63,125.92 648.29,125.56 648.95,126.43 649.61,124.43 650.28,126.36 650.94,120.45 651.60,126.01 652.26,113.48 652.93,125.08 653.59,120.59 654.25,125.06 654.91,120.89 655.58,122.57 656.24,120.65 656.90,121.47 657.56,122.15 658.23,122.53 658.89,119.09 659.55,121.10 660.21,119.52 660.88,120.87 661.54,122.12 662.20,121.72 662.86,122.80 663.53,125.28 664.19,115.05 664.85,122.96 665.51,125.87 666.18,128.96 666.84,129.36 667.50,129.63 667.50,158.92 666.84,156.91 666.18,156.16 665.51,168.61 664.85,158.83 664.19,155.45 663.53,154.92 662.86,158.91 662.20,158.34 661.54,155.70 660.88,154.24 660.21,154.33 659.55,157.49 658.89,157.22 658.23,155.52 657.56,155.49 656.90,160.75 656.24,154.37 655.58,154.72 654.91,154.18 654.25,157.18 653.59,156.65 652.93,153.69 652.26,155.01 651.60,154.21 650.94,153.11 650.28,153.30 649.61,152.61 648.95,152.41 648.29,154.35 647.63,152.26 646.96,154.99 646.30,156.94 645.64,154.35 644.98,153.06 644.31,154.06 643.65,153.28 642.99,156.14 642.33,153.61 641.67,154.91 641.00,150.06 640.34,151.23 639.68,150.39 639.02,149.79 638.35,148.64 637.69,149.53 637.03,149.13 636.37,145.47 635.70,144.47 635.04,143.29 634.38,144.31 633.72,142.13 633.05,152.01 632.39,139.62 631.73,139.94 631.07,139.71 630.40,139.38 629.74,137.29 629.08,138.29 628.42,144.22 627.75,136.81 627.09,135.92 626.43,133.42 625.77,132.72 625.10,132.72 624.44,131.60 623.78,131.71 623.12,130.88 622.45,129.49 621.79,129.91 621.13,130.55 620.47,129.65 619.80,131.80 619.14,127.11 618.48,127.35 617.82,124.13 617.16,122.64 616.49,131.43 615.83,121.45 615.17,119.63 614.51,117.48 613.84,120.08 613.18,115.16 612.52,115.28 611.86,119.36 611.19,112.95 610.53,113.94 609.87,116.97 609.21,113.87 608.54,111.92 607.88,112.21 607.22,116.93 606.56,115.09 605.89,110.95 605.23,110.81 604.57,114.25 603.91,110.07 603.24,113.00 602.58,110.57 601.92,113.25 601.26,109.97 600.59,106.94 599.93,110.40 599.27,106.67 598.61,104.35 597.94,104.35 597.28,105.49 596.62,101.27 595.96,99.91 595.29,102.35 594.63,97.28 593.97,99.51 593.31,96.37 592.64,95.29 591.98,95.26 591.32,93.80 590.66,91.69 590.00,90.04 589.33,92.89 588.67,87.76 588.01,85.94 587.35,93.00 586.68,83.54 586.02,85.44 585.36,81.11 584.70,87.17 584.03,80.23 583.37,79.87 582.71,80.72 582.05,85.00 581.38,79.15 580.72,82.46 580.06,86.05 579.40,90.31 578.73,101.79 578.07,113.85 577.41,111.32 576.75,115.93 576.08,116.98 575.42,120.89 574.76,123.07 574.10,125.85 573.43,127.42 572.77,131.31 572.11,132.37 571.45,133.81 570.78,136.73 570.12,141.53 569.46,140.35 568.80,143.01 568.13,144.98 567.47,148.34 566.81,154.18 566.15,147.01 565.49,154.64 564.82,150.30 564.16,149.71 563.50,152.78 562.84,151.65 562.17,152.91 561.51,153.72 560.85,156.87 560.19,156.46 559.52,158.07 558.86,159.80 558.20,158.66 557.54,159.26 556.87,159.33 556.21,168.07 555.55,159.61 554.89,161.03 554.22,168.30 553.56,161.30 552.90,163.65 552.24,164.76 551.57,167.50 550.91,163.05 550.25,163.27 549.59,168.22 548.92,164.52 548.26,164.45 547.60,164.43 546.94,166.37 546.27,165.90 545.61,164.36 544.95,164.04 544.29,165.38 543.62,162.44 542.96,166.40 542.30,161.43" fill="#c9e0f1"/>
<path d="M573.60 44.50V176.20M542.30 154.25H667.50" stroke="#c6c6c6" stroke-width="0.6" stroke-dasharray="2 1.7" fill="none"/>
<path d="M542.30 150.13 L543.71 150.53 L545.11 148.01 L546.52 151.86 L547.93 150.59 L549.33 150.70 L550.74 148.05 L552.15 147.98 L553.55 147.18 L554.96 149.57 L556.37 147.92 L557.77 148.14 L559.18 145.57 L560.59 144.35 L561.99 142.62 L563.40 142.21 L564.81 137.86 L566.21 137.89 L567.62 132.30 L569.03 130.47 L570.43 125.28 L571.84 123.04 L573.25 117.39 L574.66 116.66 L576.06 110.52 L577.47 94.21 L578.88 72.06 L580.28 70.11 L581.69 67.24 L583.10 62.60 L584.50 66.10 L585.91 69.09 L587.32 67.49 L588.72 78.01 L590.13 79.24 L591.54 76.91 L592.94 77.61 L594.35 80.47 L595.76 80.79 L597.16 83.59 L598.57 82.81 L599.98 86.49 L601.38 88.40 L602.79 91.70 L604.20 93.03 L605.60 94.26 L607.01 91.68 L608.42 92.15 L609.82 93.26 L611.23 93.80 L612.64 91.86 L614.04 96.36 L615.45 100.81 L616.86 109.39 L618.26 107.41 L619.67 112.23 L621.08 111.15 L622.48 113.79 L623.89 115.33 L625.30 117.24 L626.70 113.55 L628.11 119.09 L629.52 120.55 L630.92 121.33 L632.33 120.93 L633.74 124.71 L635.14 127.52 L636.55 131.83 L637.96 131.37 L639.37 135.19 L640.77 135.94 L642.18 140.61 L643.59 141.01 L644.99 142.13 L646.40 139.49 L647.81 140.94 L649.21 138.03 L650.62 140.06 L652.03 138.49 L653.43 140.89 L654.84 137.57 L656.25 139.50 L657.65 138.75 L659.06 138.89 L660.47 135.84 L661.87 137.14 L663.28 138.10 L664.69 141.31 L666.09 141.43 L667.50 143.30" stroke="#3d8ccc" stroke-width="0.55" fill="none" stroke-linejoin="round"/>
<path d="M570.03 126.76 L570.43 125.28 L571.84 123.04 L573.25 117.39 L574.66 116.66 L576.06 110.52 L577.47 94.21 L578.88 72.06 L580.28 70.11 L581.69 67.24 L583.10 62.60 L584.50 66.10 L585.91 69.09 L587.32 67.49 L587.94 72.12" stroke="#0a68b8" stroke-width="1.5" fill="none" stroke-linejoin="round" stroke-linecap="round"/>
<path d="M590.94 77.90 L591.54 76.91 L592.88 77.58" stroke="#0a68b8" stroke-width="1.5" fill="none" stroke-linejoin="round" stroke-linecap="round"/>
<path d="M606.84 91.99 L607.01 91.68 L608.42 92.15 L609.82 93.26 L611.23 93.80 L612.64 91.86 L613.60 94.95" stroke="#0a68b8" stroke-width="1.5" fill="none" stroke-linejoin="round" stroke-linecap="round"/>
<path d="M619.42 111.38 L619.67 112.23 L620.74 111.41" stroke="#0a68b8" stroke-width="1.5" fill="none" stroke-linejoin="round" stroke-linecap="round"/>
<path d="M625.68 116.23 L626.70 113.55 L627.00 114.70" stroke="#0a68b8" stroke-width="1.5" fill="none" stroke-linejoin="round" stroke-linecap="round"/>
<path d="M628.12 119.10 L629.52 120.55 L630.92 121.33 L632.33 120.93 L633.20 123.25" stroke="#0a68b8" stroke-width="1.5" fill="none" stroke-linejoin="round" stroke-linecap="round"/>
<path d="M542.30 44.20V176.20H667.80" stroke="#a6a6a6" stroke-width="0.8" fill="none"/>
<path d="M542.30 176.20v-1.3M573.60 176.20v-1.3M604.90 176.20v-1.3M636.20 176.20v-1.3M667.50 176.20v-1.3M542.30 176.20h1.3M542.30 154.25h1.3M542.30 132.30h1.3M542.30 110.35h1.3M542.30 88.40h1.3M542.30 66.45h1.3M542.30 44.50h1.3" stroke="#888" stroke-width="0.5" fill="none"/>
<g class="tl"><text x="541.40" y="177.70" text-anchor="end">0.4</text><text x="541.40" y="155.75" text-anchor="end">0.5</text><text x="541.40" y="133.80" text-anchor="end">0.6</text><text x="541.40" y="111.85" text-anchor="end">0.7</text><text x="541.40" y="89.90" text-anchor="end">0.8</text><text x="541.40" y="67.95" text-anchor="end">0.9</text><text x="541.40" y="46.00" text-anchor="end">1</text><text x="542.30" y="181.80" text-anchor="middle">-0.5</text><text x="573.60" y="181.80" text-anchor="middle">0</text><text x="604.90" y="181.80" text-anchor="middle">0.5</text><text x="636.20" y="181.80" text-anchor="middle">1</text><text x="667.50" y="181.80" text-anchor="middle">1.5</text></g>
<text class="xl" x="604.90" y="186.50" text-anchor="middle">time points</text>
<text class="yl" transform="translate(534.10 110.35) rotate(-90)" text-anchor="middle">AUC</text>
<text class="tt" x="605.70" y="43.20" text-anchor="middle">(average)</text>
<path d="M47.50 219.60V351.30M79.00 219.60V351.30M110.50 219.60V351.30M142.00 219.60V351.30M173.50 219.60V351.30M47.50 351.30H173.50M47.50 329.35H173.50M47.50 307.40H173.50M47.50 285.45H173.50M47.50 263.50H173.50M47.50 241.55H173.50M47.50 219.60H173.50" stroke="#e9e9e9" stroke-width="0.6" fill="none"/>
<polygon points="47.50,314.41 48.17,311.05 48.83,311.75 49.50,314.14 50.17,314.77 50.83,314.42 51.50,314.07 52.17,314.76 52.83,313.09 53.50,308.67 54.17,309.65 54.83,313.73 55.50,312.29 56.17,313.15 56.83,312.47 57.50,312.00 58.17,310.76 58.83,311.95 59.50,311.74 60.17,310.32 60.83,309.27 61.50,304.59 62.17,306.84 62.83,308.28 63.50,303.03 64.17,305.37 64.83,307.22 65.50,304.27 66.17,302.31 66.83,305.58 67.50,302.90 68.17,303.75 68.83,301.78 69.50,301.88 70.17,300.13 70.83,300.11 71.50,298.57 72.17,296.08 72.83,297.25 73.50,294.81 74.17,294.99 74.83,290.58 75.50,290.86 76.17,289.17 76.83,290.22 77.50,286.20 78.17,281.59 78.83,287.53 79.50,285.43 80.17,283.49 80.83,279.19 81.50,275.78 82.17,275.86 82.83,276.06 83.50,261.91 84.17,243.45 84.83,228.70 85.50,231.82 86.17,233.80 86.83,236.18 87.50,232.79 88.17,227.95 88.83,226.32 89.50,228.72 90.17,230.03 90.83,230.40 91.50,232.95 92.17,236.16 92.83,237.73 93.50,239.93 94.17,240.51 94.83,242.38 95.50,242.81 96.17,241.40 96.83,238.90 97.50,236.30 98.17,236.93 98.83,239.19 99.50,241.68 100.17,245.27 100.83,246.01 101.50,246.98 102.17,248.31 102.83,251.87 103.50,250.84 104.17,250.80 104.83,255.89 105.50,253.84 106.17,257.85 106.83,254.69 107.50,252.22 108.17,253.16 108.83,257.30 109.50,256.76 110.17,253.08 110.83,256.85 111.50,255.37 112.17,255.79 112.83,255.49 113.50,254.80 114.17,254.07 114.83,255.40 115.50,256.02 116.17,256.81 116.83,256.40 117.50,253.07 118.17,252.25 118.83,256.29 119.50,262.09 120.17,257.47 120.83,262.80 121.50,266.73 122.17,262.08 122.83,270.24 123.50,270.92 124.17,269.06 124.83,269.96 125.50,266.42 126.17,275.04 126.83,276.49 127.50,277.58 128.17,277.86 128.83,278.02 129.50,278.06 130.17,281.98 130.83,280.30 131.50,279.90 132.17,282.29 132.83,284.35 133.50,285.01 134.17,278.35 134.83,281.36 135.50,283.61 136.17,284.10 136.83,284.05 137.50,281.22 138.17,283.01 138.83,285.65 139.50,285.86 140.17,285.91 140.83,288.58 141.50,289.36 142.17,290.86 142.83,289.80 143.50,292.49 144.17,294.24 144.83,294.92 145.50,295.66 146.17,291.04 146.83,297.87 147.50,298.58 148.17,297.19 148.83,299.69 149.50,300.53 150.17,298.75 150.83,297.31 151.50,303.23 152.17,300.16 152.83,298.91 153.50,304.21 154.17,305.33 154.83,304.15 155.50,304.93 156.17,303.89 156.83,305.66 157.50,305.70 158.17,301.74 158.83,305.71 159.50,304.42 160.17,305.76 160.83,305.15 161.50,301.63 162.17,304.20 162.83,302.16 163.50,305.47 164.17,305.80 164.83,305.19 165.50,305.71 166.17,305.08 166.83,305.32 167.50,305.85 168.17,304.77 168.83,302.24 169.50,303.70 170.17,300.81 170.83,303.97 171.50,305.09 172.17,304.24 172.83,304.74 173.50,304.02 173.50,337.41 172.83,336.84 172.17,337.88 171.50,337.97 170.83,337.77 170.17,337.36 169.50,339.04 168.83,338.94 168.17,341.24 167.50,338.28 166.83,337.78 166.17,337.89 165.50,337.96 164.83,343.27 164.17,340.10 163.50,343.67 162.83,338.31 162.17,340.07 161.50,338.07 160.83,341.74 160.17,340.33 159.50,341.69 158.83,341.17 158.17,338.45 157.50,340.73 156.83,340.70 156.17,339.66 155.50,342.92 154.83,339.42 154.17,342.82 153.50,343.67 152.83,340.68 152.17,346.25 151.50,339.69 150.83,339.09 150.17,339.53 149.50,336.73 148.83,335.61 148.17,335.43 147.50,333.53 146.83,335.57 146.17,333.21 145.50,333.83 144.83,332.66 144.17,333.50 143.50,330.43 142.83,336.50 142.17,329.62 141.50,329.56 140.83,336.86 140.17,328.39 139.50,328.66 138.83,329.85 138.17,329.57 137.50,327.72 136.83,327.86 136.17,327.02 135.50,326.95 134.83,332.68 134.17,325.78 133.50,326.17 132.83,326.50 132.17,325.43 131.50,323.03 130.83,326.96 130.17,325.11 129.50,323.48 128.83,320.51 128.17,324.49 127.50,321.97 126.83,319.43 126.17,318.09 125.50,318.92 124.83,322.44 124.17,316.52 123.50,317.81 122.83,316.21 122.17,315.28 121.50,315.92 120.83,315.90 120.17,313.45 119.50,312.90 118.83,310.76 118.17,310.32 117.50,308.50 116.83,310.26 116.17,308.39 115.50,309.30 114.83,307.02 114.17,307.02 113.50,303.20 112.83,304.64 112.17,309.53 111.50,309.62 110.83,300.51 110.17,302.58 109.50,299.50 108.83,306.82 108.17,297.72 107.50,299.88 106.83,301.47 106.17,301.79 105.50,297.69 104.83,292.75 104.17,291.79 103.50,297.30 102.83,288.76 102.17,286.69 101.50,286.28 100.83,284.39 100.17,282.64 99.50,280.85 98.83,279.27 98.17,278.65 97.50,277.61 96.83,278.12 96.17,274.97 95.50,273.63 94.83,276.27 94.17,274.31 93.50,270.39 92.83,269.17 92.17,271.67 91.50,271.46 90.83,268.90 90.17,265.00 89.50,266.65 88.83,263.61 88.17,264.81 87.50,266.39 86.83,271.54 86.17,274.24 85.50,278.55 84.83,288.30 84.17,297.57 83.50,302.16 82.83,308.37 82.17,313.98 81.50,311.71 80.83,313.31 80.17,320.13 79.50,318.12 78.83,323.14 78.17,322.65 77.50,322.87 76.83,320.52 76.17,322.02 75.50,325.15 74.83,327.80 74.17,325.17 73.50,325.51 72.83,326.19 72.17,328.80 71.50,329.15 70.83,336.87 70.17,330.69 69.50,340.70 68.83,340.30 68.17,333.28 67.50,337.66 66.83,333.49 66.17,338.95 65.50,336.09 64.83,338.39 64.17,338.92 63.50,336.49 62.83,341.72 62.17,336.62 61.50,339.39 60.83,339.10 60.17,338.17 59.50,339.17 58.83,337.62 58.17,340.32 57.50,338.35 56.83,341.56 56.17,338.80 55.50,343.95 54.83,339.39 54.17,341.57 53.50,339.55 52.83,341.47 52.17,342.60 51.50,343.23 50.83,341.88 50.17,340.40 49.50,342.44 48.83,348.14 48.17,342.39 47.50,342.00" fill="#c9e0f1"/>
<path d="M79.00 219.60V351.30M47.50 329.35H173.50" stroke="#c6c6c6" stroke-width="0.6" stroke-dasharray="2 1.7" fill="none"/>
<path d="M47.50 326.66 L48.90 328.00 L50.30 327.18 L51.70 327.65 L53.10 327.47 L54.50 328.87 L55.90 326.11 L57.30 327.29 L58.70 324.78 L60.10 328.93 L61.50 325.81 L62.90 325.58 L64.30 321.56 L65.70 323.07 L67.10 320.09 L68.50 321.97 L69.90 315.89 L71.30 314.81 L72.70 312.25 L74.10 312.13 L75.50 307.86 L76.90 307.07 L78.30 303.92 L79.70 301.65 L81.10 296.42 L82.50 290.23 L83.90 270.30 L85.30 252.06 L86.70 257.72 L88.10 249.65 L89.50 245.86 L90.90 251.18 L92.30 250.59 L93.70 256.08 L95.10 260.60 L96.50 264.00 L97.90 257.14 L99.30 261.28 L100.70 262.41 L102.10 268.18 L103.50 271.76 L104.90 276.93 L106.30 277.25 L107.70 277.97 L109.10 278.60 L110.50 278.89 L111.90 275.83 L113.30 276.12 L114.70 275.74 L116.10 278.17 L117.50 278.71 L118.90 282.79 L120.30 284.65 L121.70 289.21 L123.10 291.55 L124.50 293.17 L125.90 293.62 L127.30 299.29 L128.70 298.84 L130.10 301.67 L131.50 300.45 L132.90 301.07 L134.30 300.35 L135.70 305.18 L137.10 305.09 L138.50 308.65 L139.90 309.81 L141.30 313.72 L142.70 315.16 L144.10 316.55 L145.50 314.44 L146.90 314.73 L148.30 312.79 L149.70 318.21 L151.10 320.79 L152.50 323.35 L153.90 321.23 L155.30 321.71 L156.70 321.68 L158.10 323.65 L159.50 321.90 L160.90 323.10 L162.30 322.26 L163.70 324.47 L165.10 323.23 L166.50 323.92 L167.90 320.45 L169.30 323.53 L170.70 321.51 L172.10 323.60 L173.50 322.65" stroke="#3d8ccc" stroke-width="0.55" fill="none" stroke-linejoin="round"/>
<path d="M70.31 315.58 L71.30 314.81 L72.70 312.25 L72.95 312.23" stroke="#0a68b8" stroke-width="1.5" fill="none" stroke-linejoin="round" stroke-linecap="round"/>
<path d="M75.03 309.29 L75.50 307.86 L76.73 307.16" stroke="#0a68b8" stroke-width="1.5" fill="none" stroke-linejoin="round" stroke-linecap="round"/>
<path d="M77.87 304.90 L78.30 303.92 L79.70 301.65 L81.10 296.42 L82.50 290.23 L83.90 270.30 L85.30 252.06 L86.06 255.11" stroke="#0a68b8" stroke-width="1.5" fill="none" stroke-linejoin="round" stroke-linecap="round"/>
<path d="M88.13 249.55 L89.50 245.86 L90.03 247.86" stroke="#0a68b8" stroke-width="1.5" fill="none" stroke-linejoin="round" stroke-linecap="round"/>
<path d="M99.92 261.77 L100.70 262.41 L102.10 268.18 L102.94 270.33" stroke="#0a68b8" stroke-width="1.5" fill="none" stroke-linejoin="round" stroke-linecap="round"/>
<path d="M109.56 278.69 L110.50 278.89 L111.90 275.83 L113.30 276.12 L114.70 275.74 L116.10 278.17 L117.50 278.71 L118.90 282.79 L119.64 283.77" stroke="#0a68b8" stroke-width="1.5" fill="none" stroke-linejoin="round" stroke-linecap="round"/>
<path d="M122.85 291.13 L123.10 291.55 L124.50 293.17 L125.68 293.55" stroke="#0a68b8" stroke-width="1.5" fill="none" stroke-linejoin="round" stroke-linecap="round"/>
<path d="M129.53 300.51 L130.10 301.67 L131.50 300.45 L132.90 301.07 L134.25 300.38" stroke="#0a68b8" stroke-width="1.5" fill="none" stroke-linejoin="round" stroke-linecap="round"/>
<path d="M136.71 305.11 L137.10 305.09 L138.50 308.65 L139.90 309.81 L140.87 312.51" stroke="#0a68b8" stroke-width="1.5" fill="none" stroke-linejoin="round" stroke-linecap="round"/>
<path d="M47.50 219.30V351.30H173.80" stroke="#a6a6a6" stroke-width="0.8" fill="none"/>
<path d="M47.50 351.30v-1.3M79.00 351.30v-1.3M110.50 351.30v-1.3M142.00 351.30v-1.3M173.50 351.30v-1.3M47.50 351.30h1.3M47.50 329.35h1.3M47.50 307.40h1.3M47.50 285.45h1.3M47.50 263.50h1.3M47.50 241.55h1.3M47.50 219.60h1.3" stroke="#888" stroke-width="0.5" fill="none"/>
<g class="tl"><text x="46.60" y="352.80" text-anchor="end">0.4</text><text x="46.60" y="330.85" text-anchor="end">0.5</text><text x="46.60" y="308.90" text-anchor="end">0.6</text><text x="46.60" y="286.95" text-anchor="end">0.7</text><text x="46.60" y="265.00" text-anchor="end">0.8</text><text x="46.60" y="243.05" text-anchor="end">0.9</text><text x="46.60" y="221.10" text-anchor="end">1</text><text x="47.50" y="356.90" text-anchor="middle">-0.5</text><text x="79.00" y="356.90" text-anchor="middle">0</text><text x="110.50" y="356.90" text-anchor="middle">0.5</text><text x="142.00" y="356.90" text-anchor="middle">1</text><text x="173.50" y="356.90" text-anchor="middle">1.5</text></g>
<text class="xl" x="110.50" y="361.60" text-anchor="middle">time points</text>
<text class="yl" transform="translate(39.30 285.45) rotate(-90)" text-anchor="middle">AUC</text>
<text class="tt" x="111.30" y="218.30" text-anchor="middle">(average)</text>
<path d="M212.50 219.60V351.30M244.03 219.60V351.30M275.55 219.60V351.30M307.07 219.60V351.30M338.60 219.60V351.30M212.50 351.30H338.60M212.50 329.35H338.60M212.50 307.40H338.60M212.50 285.45H338.60M212.50 263.50H338.60M212.50 241.55H338.60M212.50 219.60H338.60" stroke="#e9e9e9" stroke-width="0.6" fill="none"/>
<polygon points="212.50,313.54 213.17,310.75 213.83,311.31 214.50,310.96 215.17,307.33 215.84,308.62 216.50,310.59 217.17,308.43 217.84,311.87 218.50,309.84 219.17,312.19 219.84,311.54 220.51,306.53 221.17,312.07 221.84,310.02 222.51,306.41 223.18,309.59 223.84,309.14 224.51,310.50 225.18,309.64 225.84,309.13 226.51,309.47 227.18,308.74 227.85,309.03 228.51,307.66 229.18,307.29 229.85,307.57 230.51,305.79 231.18,302.77 231.85,301.08 232.52,303.13 233.18,302.90 233.85,302.31 234.52,298.90 235.18,301.49 235.85,300.53 236.52,299.82 237.19,298.33 237.85,298.33 238.52,292.09 239.19,296.20 239.86,294.89 240.52,292.78 241.19,293.75 241.86,291.82 242.52,290.77 243.19,287.70 243.86,283.84 244.53,288.39 245.19,286.95 245.86,285.66 246.53,285.23 247.19,281.92 247.86,275.44 248.53,258.35 249.20,240.95 249.86,226.34 250.53,228.17 251.20,233.45 251.86,228.76 252.53,233.32 253.20,229.34 253.87,227.60 254.53,228.05 255.20,226.99 255.87,230.82 256.53,233.50 257.20,234.87 257.87,232.93 258.54,233.01 259.20,240.00 259.87,240.85 260.54,241.21 261.21,240.20 261.87,238.59 262.54,241.82 263.21,241.88 263.87,241.26 264.54,241.85 265.21,245.39 265.88,245.98 266.54,247.36 267.21,249.27 267.88,248.26 268.54,251.46 269.21,249.10 269.88,254.09 270.55,256.01 271.21,256.86 271.88,254.78 272.55,256.41 273.21,258.91 273.88,259.62 274.55,259.86 275.22,259.04 275.88,256.65 276.55,257.98 277.22,259.84 277.89,258.07 278.55,258.95 279.22,251.74 279.89,257.38 280.55,255.96 281.22,256.28 281.89,256.73 282.56,257.25 283.22,259.88 283.89,259.60 284.56,263.78 285.22,265.30 285.89,266.52 286.56,262.51 287.23,270.25 287.89,270.89 288.56,264.89 289.23,270.23 289.89,273.53 290.56,272.29 291.23,276.56 291.90,275.01 292.56,275.37 293.23,277.53 293.90,277.98 294.57,276.59 295.23,280.69 295.90,281.98 296.57,273.46 297.23,282.61 297.90,283.60 298.57,281.03 299.24,278.01 299.90,282.65 300.57,281.29 301.24,287.15 301.90,287.43 302.57,286.52 303.24,289.98 303.91,291.01 304.57,292.89 305.24,293.53 305.91,294.58 306.57,295.33 307.24,295.49 307.91,296.54 308.58,291.65 309.24,295.99 309.91,299.86 310.58,300.60 311.24,298.30 311.91,301.13 312.58,299.57 313.25,301.75 313.91,302.63 314.58,301.62 315.25,303.17 315.92,301.31 316.58,304.07 317.25,301.23 317.92,302.03 318.58,304.94 319.25,302.70 319.92,303.53 320.59,303.39 321.25,305.83 321.92,305.74 322.59,305.98 323.25,302.70 323.92,306.48 324.59,306.60 325.26,305.22 325.92,306.28 326.59,306.04 327.26,305.46 327.92,306.69 328.59,307.06 329.26,309.01 329.93,308.03 330.59,301.48 331.26,305.17 331.93,303.62 332.60,308.06 333.26,303.28 333.93,309.89 334.60,306.79 335.26,311.06 335.93,310.59 336.60,310.96 337.27,311.32 337.93,308.27 338.60,309.97 338.60,338.15 337.93,341.74 337.27,339.09 336.60,338.49 335.93,337.62 335.26,342.06 334.60,339.16 333.93,339.71 333.26,338.34 332.60,344.16 331.93,337.97 331.26,340.06 330.59,342.60 329.93,338.94 329.26,350.65 328.59,338.16 327.92,340.26 327.26,338.41 326.59,339.13 325.92,338.87 325.26,338.07 324.59,338.85 323.92,337.47 323.25,337.86 322.59,337.60 321.92,339.31 321.25,344.46 320.59,336.96 319.92,337.17 319.25,338.46 318.58,336.69 317.92,337.48 317.25,336.45 316.58,336.33 315.92,347.89 315.25,339.14 314.58,336.38 313.91,337.14 313.25,335.01 312.58,334.56 311.91,334.06 311.24,334.68 310.58,339.17 309.91,334.89 309.24,334.90 308.58,332.10 307.91,334.73 307.24,330.95 306.57,331.06 305.91,333.34 305.24,333.82 304.57,329.69 303.91,328.48 303.24,328.03 302.57,330.04 301.90,327.48 301.24,326.09 300.57,327.97 299.90,327.35 299.24,324.90 298.57,323.14 297.90,322.53 297.23,323.20 296.57,321.68 295.90,321.15 295.23,321.05 294.57,322.90 293.90,320.05 293.23,320.36 292.56,324.90 291.90,318.67 291.23,317.36 290.56,316.17 289.89,314.98 289.23,314.94 288.56,317.35 287.89,311.84 287.23,315.44 286.56,310.94 285.89,309.66 285.22,309.40 284.56,309.12 283.89,304.76 283.22,304.65 282.56,305.93 281.89,304.50 281.22,303.15 280.55,299.97 279.89,300.04 279.22,301.92 278.55,301.58 277.89,302.06 277.22,302.26 276.55,302.06 275.88,304.11 275.22,303.62 274.55,307.84 273.88,310.12 273.21,302.90 272.55,304.06 271.88,301.48 271.21,302.22 270.55,294.83 269.88,294.31 269.21,299.24 268.54,288.75 267.88,296.20 267.21,292.98 266.54,287.23 265.88,281.62 265.21,280.80 264.54,280.67 263.87,280.85 263.21,280.67 262.54,280.72 261.87,285.54 261.21,279.71 260.54,287.01 259.87,279.74 259.20,276.13 258.54,274.65 257.87,274.49 257.20,276.17 256.53,270.43 255.87,269.00 255.20,273.58 254.53,266.78 253.87,267.79 253.20,268.51 252.53,265.43 251.86,267.62 251.20,269.22 250.53,276.69 249.86,284.41 249.20,296.90 248.53,306.11 247.86,306.96 247.19,310.58 246.53,311.10 245.86,313.07 245.19,317.12 244.53,316.43 243.86,318.75 243.19,319.77 242.52,322.31 241.86,323.35 241.19,323.54 240.52,325.57 239.86,328.02 239.19,326.78 238.52,331.68 237.85,330.31 237.19,329.79 236.52,333.81 235.85,331.60 235.18,331.78 234.52,336.22 233.85,333.91 233.18,333.90 232.52,335.11 231.85,337.46 231.18,339.94 230.51,335.89 229.85,337.24 229.18,340.21 228.51,336.53 227.85,336.60 227.18,339.08 226.51,337.00 225.84,337.21 225.18,337.34 224.51,337.19 223.84,340.63 223.18,338.08 222.51,341.64 221.84,338.53 221.17,338.22 220.51,340.78 219.84,338.67 219.17,339.99 218.50,339.71 217.84,339.03 217.17,341.21 216.50,339.61 215.84,340.87 215.17,343.46 214.50,342.13 213.83,344.05 213.17,345.62 212.50,342.60" fill="#c9e0f1"/>
<path d="M244.03 219.60V351.30M212.50 329.35H338.60" stroke="#c6c6c6" stroke-width="0.6" stroke-dasharray="2 1.7" fill="none"/>
<path d="M212.50 327.22 L213.90 326.03 L215.30 322.76 L216.70 328.36 L218.10 324.89 L219.51 324.49 L220.91 324.09 L222.31 326.01 L223.71 323.68 L225.11 324.75 L226.51 324.44 L227.91 325.15 L229.31 322.32 L230.71 322.63 L232.12 320.45 L233.52 320.64 L234.92 317.93 L236.32 316.74 L237.72 314.81 L239.12 315.66 L240.52 311.34 L241.92 310.60 L243.32 306.38 L244.73 305.19 L246.13 299.70 L247.53 298.43 L248.93 274.08 L250.33 254.60 L251.73 261.84 L253.13 250.97 L254.53 247.69 L255.93 251.81 L257.34 254.25 L258.74 260.52 L260.14 263.46 L261.54 267.81 L262.94 261.16 L264.34 261.95 L265.74 263.11 L267.14 267.17 L268.54 272.13 L269.95 275.80 L271.35 277.92 L272.75 280.54 L274.15 281.53 L275.55 283.03 L276.95 278.64 L278.35 277.05 L279.75 278.24 L281.15 281.00 L282.56 278.73 L283.96 282.18 L285.36 286.07 L286.76 291.66 L288.16 293.45 L289.56 298.07 L290.96 297.48 L292.36 303.06 L293.76 301.67 L295.17 304.97 L296.57 301.26 L297.97 301.60 L299.37 302.25 L300.77 308.06 L302.17 308.48 L303.57 312.85 L304.97 311.43 L306.37 314.23 L307.78 314.62 L309.18 316.95 L310.58 316.92 L311.98 318.21 L313.38 316.96 L314.78 319.79 L316.18 317.66 L317.58 318.33 L318.98 318.01 L320.39 322.75 L321.79 321.35 L323.19 322.43 L324.59 320.41 L325.99 322.50 L327.39 319.50 L328.79 322.35 L330.19 323.16 L331.59 323.10 L333.00 321.30 L334.40 324.68 L335.80 321.74 L337.20 324.40 L338.60 322.33" stroke="#3d8ccc" stroke-width="0.55" fill="none" stroke-linejoin="round"/>
<path d="M211.93 327.22 L212.50 327.22 L213.63 326.26" stroke="#0a68b8" stroke-width="1.5" fill="none" stroke-linejoin="round" stroke-linecap="round"/>
<path d="M244.21 305.62 L244.73 305.19 L246.13 299.70 L247.53 298.43 L248.93 274.08 L250.33 254.60 L251.28 259.49" stroke="#0a68b8" stroke-width="1.5" fill="none" stroke-linejoin="round" stroke-linecap="round"/>
<path d="M253.17 250.89 L254.49 247.79" stroke="#0a68b8" stroke-width="1.5" fill="none" stroke-linejoin="round" stroke-linecap="round"/>
<path d="M266.82 266.22 L267.14 267.17 L268.02 270.26" stroke="#0a68b8" stroke-width="1.5" fill="none" stroke-linejoin="round" stroke-linecap="round"/>
<path d="M272.71 280.47 L272.75 280.54 L274.15 281.53 L275.55 283.03 L276.95 278.64 L278.35 277.05 L279.75 278.24 L281.15 281.00 L282.56 278.73 L283.96 282.18 L285.36 286.07 L286.76 291.66 L286.96 291.92" stroke="#0a68b8" stroke-width="1.5" fill="none" stroke-linejoin="round" stroke-linecap="round"/>
<path d="M287.91 293.13 L288.16 293.45 L289.56 298.07 L290.96 297.48 L292.36 303.06 L293.76 301.67 L295.17 304.97 L296.57 301.26 L297.97 301.60 L299.37 302.25 L300.77 308.06 L302.17 308.48 L302.54 309.62" stroke="#0a68b8" stroke-width="1.5" fill="none" stroke-linejoin="round" stroke-linecap="round"/>
<path d="M316.60 317.86 L317.58 318.33 L318.11 318.21" stroke="#0a68b8" stroke-width="1.5" fill="none" stroke-linejoin="round" stroke-linecap="round"/>
<path d="M326.49 321.42 L327.39 319.50 L328.01 320.75" stroke="#0a68b8" stroke-width="1.5" fill="none" stroke-linejoin="round" stroke-linecap="round"/>
<path d="M212.50 219.30V351.30H338.90" stroke="#a6a6a6" stroke-width="0.8" fill="none"/>
<path d="M212.50 351.30v-1.3M244.03 351.30v-1.3M275.55 351.30v-1.3M307.07 351.30v-1.3M338.60 351.30v-1.3M212.50 351.30h1.3M212.50 329.35h1.3M212.50 307.40h1.3M212.50 285.45h1.3M212.50 263.50h1.3M212.50 241.55h1.3M212.50 219.60h1.3" stroke="#888" stroke-width="0.5" fill="none"/>
<g class="tl"><text x="211.60" y="352.80" text-anchor="end">0.4</text><text x="211.60" y="330.85" text-anchor="end">0.5</text><text x="211.60" y="308.90" text-anchor="end">0.6</text><text x="211.60" y="286.95" text-anchor="end">0.7</text><text x="211.60" y="265.00" text-anchor="end">0.8</text><text x="211.60" y="243.05" text-anchor="end">0.9</text><text x="211.60" y="221.10" text-anchor="end">1</text><text x="212.50" y="356.90" text-anchor="middle">-0.5</text><text x="244.03" y="356.90" text-anchor="middle">0</text><text x="275.55" y="356.90" text-anchor="middle">0.5</text><text x="307.07" y="356.90" text-anchor="middle">1</text><text x="338.60" y="356.90" text-anchor="middle">1.5</text></g>
<text class="xl" x="275.55" y="361.60" text-anchor="middle">time points</text>
<text class="yl" transform="translate(204.30 285.45) rotate(-90)" text-anchor="middle">AUC</text>
<text class="tt" x="276.35" y="218.30" text-anchor="middle">(average)</text>
<path d="M377.50 219.60V351.30M408.95 219.60V351.30M440.40 219.60V351.30M471.85 219.60V351.30M503.30 219.60V351.30M377.50 351.30H503.30M377.50 329.35H503.30M377.50 307.40H503.30M377.50 285.45H503.30M377.50 263.50H503.30M377.50 241.55H503.30M377.50 219.60H503.30" stroke="#e9e9e9" stroke-width="0.6" fill="none"/>
<polygon points="377.50,308.02 378.17,301.23 378.83,311.00 379.50,312.83 380.16,309.26 380.83,311.90 381.49,306.78 382.16,312.18 382.82,311.24 383.49,307.35 384.16,311.18 384.82,311.22 385.49,311.30 386.15,309.93 386.82,309.69 387.48,309.96 388.15,309.96 388.82,304.74 389.48,305.03 390.15,309.38 390.81,305.91 391.48,308.52 392.14,302.81 392.81,304.36 393.47,307.98 394.14,304.10 394.81,305.81 395.47,304.22 396.14,302.80 396.80,305.84 397.47,303.28 398.13,304.95 398.80,304.14 399.47,302.47 400.13,302.76 400.80,299.75 401.46,299.22 402.13,299.75 402.79,295.89 403.46,296.71 404.12,292.99 404.79,295.00 405.46,293.45 406.12,292.42 406.79,292.59 407.45,291.02 408.12,290.52 408.78,288.28 409.45,287.31 410.11,283.09 410.78,285.49 411.45,276.80 412.11,272.17 412.78,261.32 413.44,259.74 414.11,249.35 414.77,230.60 415.44,226.03 416.11,232.95 416.77,235.51 417.44,231.21 418.10,227.44 418.77,224.90 419.43,227.24 420.10,229.41 420.76,230.48 421.43,234.94 422.10,228.71 422.76,238.08 423.43,238.37 424.09,238.58 424.76,240.87 425.42,235.51 426.09,240.16 426.76,238.68 427.42,238.27 428.09,238.92 428.75,238.25 429.42,238.11 430.08,242.01 430.75,244.00 431.41,241.40 432.08,245.42 432.75,250.15 433.41,253.63 434.08,256.39 434.74,255.56 435.41,258.36 436.07,256.29 436.74,259.38 437.40,255.43 438.07,260.42 438.74,258.05 439.40,260.99 440.07,261.07 440.73,257.86 441.40,256.44 442.06,260.15 442.73,260.01 443.40,259.36 444.06,254.90 444.73,257.50 445.39,254.20 446.06,256.47 446.72,256.25 447.39,256.56 448.05,252.57 448.72,258.58 449.39,262.79 450.05,263.75 450.72,265.54 451.38,269.08 452.05,271.67 452.71,273.94 453.38,272.18 454.04,273.76 454.71,275.26 455.38,274.88 456.04,274.67 456.71,278.27 457.37,276.75 458.04,279.00 458.70,268.44 459.37,280.52 460.04,279.50 460.70,281.20 461.37,282.57 462.03,281.94 462.70,283.45 463.36,284.11 464.03,278.00 464.69,276.79 465.36,284.91 466.03,287.59 466.69,288.24 467.36,287.80 468.02,288.30 468.69,288.73 469.35,291.64 470.02,289.73 470.69,293.61 471.35,289.38 472.02,296.49 472.68,296.78 473.35,299.70 474.01,298.45 474.68,299.70 475.34,302.34 476.01,301.65 476.68,302.11 477.34,302.98 478.01,302.12 478.67,302.72 479.34,302.98 480.00,301.95 480.67,301.55 481.33,292.93 482.00,302.58 482.67,304.29 483.33,295.58 484.00,303.93 484.66,296.02 485.33,298.98 485.99,300.81 486.66,304.81 487.33,303.05 487.99,298.15 488.66,302.77 489.32,302.47 489.99,302.24 490.65,305.01 491.32,305.18 491.98,306.00 492.65,303.56 493.32,303.74 493.98,306.37 494.65,304.76 495.31,305.16 495.98,297.94 496.64,305.10 497.31,306.47 497.98,303.24 498.64,307.97 499.31,305.15 499.97,301.11 500.64,305.58 501.30,308.04 501.97,307.45 502.63,308.96 503.30,309.12 503.30,346.42 502.63,338.88 501.97,342.18 501.30,340.10 500.64,340.87 499.97,341.08 499.31,340.70 498.64,339.74 497.98,338.32 497.31,342.56 496.64,338.81 495.98,339.52 495.31,339.20 494.65,338.44 493.98,341.75 493.32,340.35 492.65,339.63 491.98,339.34 491.32,339.05 490.65,343.13 489.99,339.08 489.32,341.51 488.66,338.50 487.99,338.36 487.33,339.02 486.66,339.64 485.99,342.33 485.33,342.97 484.66,338.69 484.00,338.59 483.33,340.88 482.67,337.07 482.00,337.14 481.33,336.73 480.67,337.12 480.00,337.79 479.34,336.52 478.67,339.74 478.01,338.20 477.34,335.81 476.68,335.82 476.01,334.93 475.34,337.57 474.68,338.46 474.01,334.09 473.35,334.14 472.68,333.00 472.02,335.71 471.35,336.32 470.69,331.80 470.02,331.61 469.35,333.87 468.69,330.40 468.02,334.02 467.36,332.56 466.69,332.50 466.03,328.51 465.36,328.03 464.69,327.65 464.03,328.31 463.36,327.08 462.70,326.62 462.03,327.05 461.37,330.37 460.70,324.92 460.04,328.43 459.37,325.03 458.70,323.85 458.04,324.87 457.37,330.19 456.71,322.25 456.04,321.95 455.38,319.60 454.71,320.33 454.04,317.64 453.38,317.05 452.71,319.60 452.05,311.74 451.38,309.42 450.72,308.00 450.05,311.90 449.39,306.63 448.72,305.85 448.05,302.77 447.39,302.46 446.72,305.00 446.06,301.82 445.39,305.52 444.73,301.99 444.06,302.64 443.40,301.56 442.73,304.08 442.06,308.06 441.40,302.40 440.73,302.90 440.07,301.92 439.40,302.56 438.74,304.92 438.07,301.28 437.40,300.90 436.74,301.92 436.07,299.76 435.41,297.35 434.74,299.15 434.08,297.31 433.41,292.20 432.75,290.99 432.08,287.92 431.41,283.20 430.75,286.73 430.08,280.91 429.42,281.45 428.75,280.53 428.09,281.03 427.42,286.19 426.76,282.81 426.09,280.35 425.42,278.88 424.76,280.81 424.09,277.62 423.43,278.19 422.76,279.12 422.10,274.95 421.43,272.42 420.76,271.33 420.10,270.63 419.43,269.33 418.77,268.94 418.10,268.09 417.44,269.04 416.77,272.48 416.11,277.96 415.44,279.81 414.77,283.79 414.11,290.09 413.44,298.61 412.78,306.81 412.11,304.00 411.45,309.90 410.78,311.27 410.11,315.13 409.45,317.25 408.78,317.26 408.12,318.64 407.45,321.13 406.79,322.00 406.12,324.42 405.46,327.35 404.79,325.32 404.12,326.08 403.46,328.51 402.79,328.14 402.13,329.94 401.46,332.29 400.80,332.09 400.13,342.11 399.47,332.21 398.80,333.12 398.13,332.83 397.47,334.90 396.80,334.31 396.14,334.16 395.47,337.72 394.81,335.36 394.14,337.10 393.47,338.90 392.81,341.82 392.14,343.15 391.48,337.50 390.81,339.31 390.15,338.19 389.48,339.25 388.82,338.48 388.15,341.15 387.48,339.18 386.82,343.77 386.15,339.65 385.49,339.18 384.82,339.76 384.16,341.12 383.49,339.94 382.82,340.13 382.16,340.40 381.49,341.16 380.83,341.74 380.16,345.09 379.50,342.10 378.83,343.94 378.17,345.40 377.50,341.88" fill="#c9e0f1"/>
<path d="M408.95 219.60V351.30M377.50 329.35H503.30" stroke="#c6c6c6" stroke-width="0.6" stroke-dasharray="2 1.7" fill="none"/>
<path d="M377.50 329.05 L378.91 328.66 L380.33 324.80 L381.74 326.23 L383.15 325.53 L384.57 327.18 L385.98 325.18 L387.39 326.49 L388.81 324.00 L390.22 326.28 L391.63 322.96 L393.05 325.21 L394.46 321.18 L395.88 322.10 L397.29 320.16 L398.70 321.87 L400.12 318.83 L401.53 319.18 L402.94 314.60 L404.36 313.18 L405.77 306.88 L407.18 305.89 L408.60 302.25 L410.01 304.18 L411.42 298.47 L412.84 293.79 L414.25 259.78 L415.66 250.18 L417.08 255.49 L418.49 246.09 L419.90 248.78 L421.32 252.72 L422.73 252.41 L424.14 263.03 L425.56 264.75 L426.97 263.72 L428.39 258.14 L429.80 261.17 L431.21 263.52 L432.63 269.98 L434.04 273.21 L435.45 278.44 L436.87 279.43 L438.28 282.92 L439.69 280.10 L441.11 281.21 L442.52 274.96 L443.93 279.24 L445.35 278.90 L446.76 280.22 L448.17 279.78 L449.59 285.33 L451.00 286.46 L452.41 292.09 L453.83 294.49 L455.24 299.72 L456.66 299.78 L458.07 299.43 L459.48 299.19 L460.90 302.71 L462.31 302.75 L463.72 305.41 L465.14 305.59 L466.55 309.04 L467.96 309.54 L469.38 310.49 L470.79 310.09 L472.20 315.97 L473.62 316.10 L475.03 321.72 L476.44 319.90 L477.86 319.73 L479.27 318.36 L480.68 320.34 L482.10 317.92 L483.51 320.27 L484.92 317.72 L486.34 318.51 L487.75 317.75 L489.17 320.06 L490.58 317.88 L491.99 319.49 L493.41 317.68 L494.82 319.79 L496.23 322.17 L497.65 326.60 L499.06 324.80 L500.47 323.93 L501.89 322.51 L503.30 323.95" stroke="#3d8ccc" stroke-width="0.55" fill="none" stroke-linejoin="round"/>
<path d="M403.48 314.06 L404.36 313.18 L405.77 306.88 L407.18 305.89 L407.25 305.71" stroke="#0a68b8" stroke-width="1.5" fill="none" stroke-linejoin="round" stroke-linecap="round"/>
<path d="M409.14 302.99 L410.01 304.18 L411.42 298.47 L412.84 293.79 L414.25 259.78 L415.66 250.18 L416.18 252.13" stroke="#0a68b8" stroke-width="1.5" fill="none" stroke-linejoin="round" stroke-linecap="round"/>
<path d="M437.57 281.17 L438.28 282.92 L439.69 280.10 L441.11 281.21 L442.52 274.96 L443.93 279.24 L445.35 278.90 L446.76 280.22 L448.17 279.78 L449.59 285.33 L450.28 285.88" stroke="#0a68b8" stroke-width="1.5" fill="none" stroke-linejoin="round" stroke-linecap="round"/>
<path d="M450.84 286.33 L451.00 286.46 L452.41 292.09 L453.83 294.49 L455.24 299.72 L456.66 299.78 L458.07 299.43 L459.48 299.19 L460.90 302.71 L462.31 302.75 L463.72 305.41 L465.14 305.59 L466.55 309.04 L467.96 309.54 L469.38 310.49 L470.79 310.09 L472.20 315.97 L473.62 316.10 L474.55 319.83" stroke="#0a68b8" stroke-width="1.5" fill="none" stroke-linejoin="round" stroke-linecap="round"/>
<path d="M497.83 326.37 L499.06 324.80 L500.47 323.93 L501.04 323.36" stroke="#0a68b8" stroke-width="1.5" fill="none" stroke-linejoin="round" stroke-linecap="round"/>
<path d="M377.50 219.30V351.30H503.60" stroke="#a6a6a6" stroke-width="0.8" fill="none"/>
<path d="M377.50 351.30v-1.3M408.95 351.30v-1.3M440.40 351.30v-1.3M471.85 351.30v-1.3M503.30 351.30v-1.3M377.50 351.30h1.3M377.50 329.35h1.3M377.50 307.40h1.3M377.50 285.45h1.3M377.50 263.50h1.3M377.50 241.55h1.3M377.50 219.60h1.3" stroke="#888" stroke-width="0.5" fill="none"/>
<g class="tl"><text x="376.60" y="352.80" text-anchor="end">0.4</text><text x="376.60" y="330.85" text-anchor="end">0.5</text><text x="376.60" y="308.90" text-anchor="end">0.6</text><text x="376.60" y="286.95" text-anchor="end">0.7</text><text x="376.60" y="265.00" text-anchor="end">0.8</text><text x="376.60" y="243.05" text-anchor="end">0.9</text><text x="376.60" y="221.10" text-anchor="end">1</text><text x="377.50" y="356.90" text-anchor="middle">-0.5</text><text x="408.95" y="356.90" text-anchor="middle">0</text><text x="440.40" y="356.90" text-anchor="middle">0.5</text><text x="471.85" y="356.90" text-anchor="middle">1</text><text x="503.30" y="356.90" text-anchor="middle">1.5</text></g>
<text class="xl" x="440.40" y="361.60" text-anchor="middle">time points</text>
<text class="yl" transform="translate(369.30 285.45) rotate(-90)" text-anchor="middle">AUC</text>
<text class="tt" x="441.20" y="218.30" text-anchor="middle">(average)</text>
<path d="M542.30 219.60V351.30M573.60 219.60V351.30M604.90 219.60V351.30M636.20 219.60V351.30M667.50 219.60V351.30M542.30 351.30H667.50M542.30 329.35H667.50M542.30 307.40H667.50M542.30 285.45H667.50M542.30 263.50H667.50M542.30 241.55H667.50M542.30 219.60H667.50" stroke="#e9e9e9" stroke-width="0.6" fill="none"/>
<polygon points="542.30,310.71 542.96,310.97 543.62,308.32 544.29,301.14 544.95,311.47 545.61,308.45 546.27,311.56 546.94,310.75 547.60,309.25 548.26,309.72 548.92,301.90 549.59,309.73 550.25,311.06 550.91,301.14 551.57,310.93 552.24,308.67 552.90,309.64 553.56,309.74 554.22,302.95 554.89,308.46 555.55,303.52 556.21,308.90 556.87,308.61 557.54,308.12 558.20,307.78 558.86,308.00 559.52,306.90 560.19,302.60 560.85,305.82 561.51,305.05 562.17,300.70 562.84,305.18 563.50,302.40 564.16,304.04 564.82,300.95 565.49,299.88 566.15,301.10 566.81,298.29 567.47,293.74 568.13,293.33 568.80,296.52 569.46,292.10 570.12,292.55 570.78,290.38 571.45,291.20 572.11,289.36 572.77,288.31 573.43,281.61 574.10,284.98 574.76,282.33 575.42,277.67 576.08,276.01 576.75,271.44 577.41,265.09 578.07,253.24 578.73,236.24 579.40,228.33 580.06,228.10 580.72,233.29 581.38,232.73 582.05,227.52 582.71,224.51 583.37,226.67 584.03,229.23 584.70,230.33 585.36,231.28 586.02,233.40 586.68,235.11 587.35,235.71 588.01,239.29 588.67,236.68 589.33,239.62 590.00,240.56 590.66,240.63 591.32,237.15 591.98,239.36 592.64,237.16 593.31,239.86 593.97,242.79 594.63,246.41 595.29,247.50 595.96,250.02 596.62,255.17 597.28,252.05 597.94,260.61 598.61,259.14 599.27,259.91 599.93,263.46 600.59,260.66 601.26,264.34 601.92,263.04 602.58,256.50 603.24,258.47 603.91,256.17 604.57,258.93 605.23,258.91 605.89,259.75 606.56,259.48 607.22,259.19 607.88,256.59 608.54,257.22 609.21,257.16 609.87,257.12 610.53,256.03 611.19,254.23 611.86,258.72 612.52,256.02 613.18,261.22 613.84,264.31 614.51,262.60 615.17,266.34 615.83,267.00 616.49,268.34 617.16,270.30 617.82,272.96 618.48,274.17 619.14,275.36 619.80,279.07 620.47,277.62 621.13,278.82 621.79,277.81 622.45,276.48 623.12,279.05 623.78,274.32 624.44,279.78 625.10,280.74 625.77,281.51 626.43,279.76 627.09,282.14 627.75,282.31 628.42,283.13 629.08,281.29 629.74,284.71 630.40,282.74 631.07,286.52 631.73,286.18 632.39,287.05 633.05,288.50 633.72,284.07 634.38,291.12 635.04,292.38 635.70,290.00 636.37,294.74 637.03,294.93 637.69,295.23 638.35,297.26 639.02,294.72 639.68,299.44 640.34,295.77 641.00,300.53 641.67,297.08 642.33,302.15 642.99,302.97 643.65,302.51 644.31,304.27 644.98,304.82 645.64,301.67 646.30,301.92 646.96,305.32 647.63,305.93 648.29,300.56 648.95,303.41 649.61,301.15 650.28,305.35 650.94,306.03 651.60,306.35 652.26,306.32 652.93,304.95 653.59,304.06 654.25,302.50 654.91,301.31 655.58,303.96 656.24,295.55 656.90,298.81 657.56,303.06 658.23,297.35 658.89,302.29 659.55,301.41 660.21,296.05 660.88,297.51 661.54,295.95 662.20,301.18 662.86,298.53 663.53,299.26 664.19,302.44 664.85,300.69 665.51,302.62 666.18,299.22 666.84,299.18 667.50,301.40 667.50,340.15 666.84,338.80 666.18,339.99 665.51,338.06 664.85,340.80 664.19,338.08 663.53,343.93 662.86,340.11 662.20,338.45 661.54,344.01 660.88,338.69 660.21,342.70 659.55,341.46 658.89,339.25 658.23,342.24 657.56,342.71 656.90,339.21 656.24,341.91 655.58,339.24 654.91,339.12 654.25,339.76 653.59,339.15 652.93,339.05 652.26,339.35 651.60,340.58 650.94,340.65 650.28,338.30 649.61,338.46 648.95,340.87 648.29,339.50 647.63,339.93 646.96,339.96 646.30,336.81 645.64,337.34 644.98,339.75 644.31,335.80 643.65,338.86 642.99,334.67 642.33,337.09 641.67,335.70 641.00,336.55 640.34,332.70 639.68,332.62 639.02,331.99 638.35,334.77 637.69,331.00 637.03,330.46 636.37,332.41 635.70,330.13 635.04,330.89 634.38,328.43 633.72,327.05 633.05,326.41 632.39,326.72 631.73,325.60 631.07,329.17 630.40,325.51 629.74,325.58 629.08,323.94 628.42,326.09 627.75,326.84 627.09,323.21 626.43,325.49 625.77,325.78 625.10,325.31 624.44,325.19 623.78,323.59 623.12,323.32 622.45,329.14 621.79,326.16 621.13,322.52 620.47,321.09 619.80,327.87 619.14,320.60 618.48,320.06 617.82,321.58 617.16,318.99 616.49,320.95 615.83,318.47 615.17,314.52 614.51,311.24 613.84,313.64 613.18,309.82 612.52,308.91 611.86,307.04 611.19,306.53 610.53,316.26 609.87,305.27 609.21,307.83 608.54,308.67 607.88,303.34 607.22,302.30 606.56,302.27 605.89,302.96 605.23,303.03 604.57,303.43 603.91,309.26 603.24,302.36 602.58,301.51 601.92,306.39 601.26,302.25 600.59,301.56 599.93,299.01 599.27,299.89 598.61,299.12 597.94,301.57 597.28,293.10 596.62,292.39 595.96,289.71 595.29,290.47 594.63,287.68 593.97,285.62 593.31,285.39 592.64,283.36 591.98,281.63 591.32,285.76 590.66,281.87 590.00,281.93 589.33,280.66 588.67,281.82 588.01,280.81 587.35,283.25 586.68,277.59 586.02,276.81 585.36,274.67 584.70,278.58 584.03,272.50 583.37,275.14 582.71,270.81 582.05,272.86 581.38,268.99 580.72,271.37 580.06,270.74 579.40,280.47 578.73,282.64 578.07,289.91 577.41,302.19 576.75,298.40 576.08,305.47 575.42,308.65 574.76,316.88 574.10,321.90 573.43,318.49 572.77,320.50 572.11,323.53 571.45,324.15 570.78,324.34 570.12,325.92 569.46,331.21 568.80,331.01 568.13,329.31 567.47,332.32 566.81,329.31 566.15,330.28 565.49,332.54 564.82,332.04 564.16,342.50 563.50,334.18 562.84,334.21 562.17,336.87 561.51,334.67 560.85,339.34 560.19,335.79 559.52,337.10 558.86,336.45 558.20,341.23 557.54,337.66 556.87,339.35 556.21,340.01 555.55,339.14 554.89,340.01 554.22,338.71 553.56,341.98 552.90,344.43 552.24,338.80 551.57,339.48 550.91,339.36 550.25,339.13 549.59,341.87 548.92,339.97 548.26,340.26 547.60,340.59 546.94,343.23 546.27,340.47 545.61,341.18 544.95,348.67 544.29,340.70 543.62,345.77 542.96,347.22 542.30,344.03" fill="#c9e0f1"/>
<path d="M573.60 219.60V351.30M542.30 329.35H667.50" stroke="#c6c6c6" stroke-width="0.6" stroke-dasharray="2 1.7" fill="none"/>
<path d="M542.30 327.55 L543.71 326.81 L545.11 324.29 L546.52 323.75 L547.93 324.62 L549.33 327.12 L550.74 323.99 L552.15 327.28 L553.55 326.26 L554.96 327.99 L556.37 324.68 L557.77 325.18 L559.18 322.77 L560.59 323.68 L561.99 321.38 L563.40 320.89 L564.81 318.58 L566.21 318.20 L567.62 315.30 L569.03 313.65 L570.43 309.05 L571.84 307.58 L573.25 303.65 L574.66 301.68 L576.06 297.94 L577.47 277.52 L578.88 254.51 L580.28 261.68 L581.69 252.44 L583.10 248.30 L584.50 248.96 L585.91 253.14 L587.32 256.07 L588.72 260.82 L590.13 262.19 L591.54 261.90 L592.94 259.23 L594.35 264.97 L595.76 267.82 L597.16 274.37 L598.57 276.24 L599.98 280.82 L601.38 279.45 L602.79 282.20 L604.20 279.59 L605.60 280.86 L607.01 276.30 L608.42 278.55 L609.82 278.56 L611.23 282.08 L612.64 280.99 L614.04 288.28 L615.45 291.48 L616.86 297.54 L618.26 300.82 L619.67 301.57 L621.08 300.44 L622.48 301.17 L623.89 300.76 L625.30 301.28 L626.70 302.19 L628.11 303.90 L629.52 304.48 L630.92 306.19 L632.33 305.68 L633.74 309.97 L635.14 311.78 L636.55 314.56 L637.96 311.56 L639.37 315.44 L640.77 315.54 L642.18 321.93 L643.59 317.55 L644.99 318.98 L646.40 320.40 L647.81 324.96 L649.21 323.51 L650.62 322.38 L652.03 319.49 L653.43 320.89 L654.84 319.25 L656.25 321.41 L657.65 319.71 L659.06 322.53 L660.47 317.15 L661.87 317.21 L663.28 318.65 L664.69 319.76 L666.09 318.07 L667.50 320.53" stroke="#3d8ccc" stroke-width="0.55" fill="none" stroke-linejoin="round"/>
<path d="M545.56 324.12 L546.52 323.75 L547.43 324.32" stroke="#0a68b8" stroke-width="1.5" fill="none" stroke-linejoin="round" stroke-linecap="round"/>
<path d="M566.28 318.07 L567.62 315.30 L568.15 314.68" stroke="#0a68b8" stroke-width="1.5" fill="none" stroke-linejoin="round" stroke-linecap="round"/>
<path d="M573.79 302.89 L574.66 301.68 L576.06 297.94 L577.47 277.52 L578.88 254.51 L580.28 261.68 L581.55 253.35" stroke="#0a68b8" stroke-width="1.5" fill="none" stroke-linejoin="round" stroke-linecap="round"/>
<path d="M598.33 275.92 L598.57 276.24 L599.98 280.82 L601.38 279.45 L602.79 282.20 L604.20 279.59 L605.60 280.86 L607.01 276.30 L608.42 278.55 L609.82 278.56 L611.23 282.08 L612.64 280.99 L613.41 285.01" stroke="#0a68b8" stroke-width="1.5" fill="none" stroke-linejoin="round" stroke-linecap="round"/>
<path d="M621.93 300.88 L622.48 301.17 L623.89 300.76 L625.30 301.28 L626.70 302.19 L628.11 303.90 L629.52 304.48 L630.92 306.19 L632.33 305.68 L633.74 309.97 L634.13 310.48" stroke="#0a68b8" stroke-width="1.5" fill="none" stroke-linejoin="round" stroke-linecap="round"/>
<path d="M636.58 314.51 L637.96 311.56 L639.37 315.44 L640.02 315.49" stroke="#0a68b8" stroke-width="1.5" fill="none" stroke-linejoin="round" stroke-linecap="round"/>
<path d="M643.40 318.13 L643.59 317.55 L644.71 318.69" stroke="#0a68b8" stroke-width="1.5" fill="none" stroke-linejoin="round" stroke-linecap="round"/>
<path d="M660.93 317.17 L661.87 317.21 L662.43 317.78" stroke="#0a68b8" stroke-width="1.5" fill="none" stroke-linejoin="round" stroke-linecap="round"/>
<path d="M542.30 219.30V351.30H667.80" stroke="#a6a6a6" stroke-width="0.8" fill="none"/>
<path d="M542.30 351.30v-1.3M573.60 351.30v-1.3M604.90 351.30v-1.3M636.20 351.30v-1.3M667.50 351.30v-1.3M542.30 351.30h1.3M542.30 329.35h1.3M542.30 307.40h1.3M542.30 285.45h1.3M542.30 263.50h1.3M542.30 241.55h1.3M542.30 219.60h1.3" stroke="#888" stroke-width="0.5" fill="none"/>
<g class="tl"><text x="541.40" y="352.80" text-anchor="end">0.4</text><text x="541.40" y="330.85" text-anchor="end">0.5</text><text x="541.40" y="308.90" text-anchor="end">0.6</text><text x="541.40" y="286.95" text-anchor="end">0.7</text><text x="541.40" y="265.00" text-anchor="end">0.8</text><text x="541.40" y="243.05" text-anchor="end">0.9</text><text x="541.40" y="221.10" text-anchor="end">1</text><text x="542.30" y="356.90" text-anchor="middle">-0.5</text><text x="573.60" y="356.90" text-anchor="middle">0</text><text x="604.90" y="356.90" text-anchor="middle">0.5</text><text x="636.20" y="356.90" text-anchor="middle">1</text><text x="667.50" y="356.90" text-anchor="middle">1.5</text></g>
<text class="xl" x="604.90" y="361.60" text-anchor="middle">time points</text>
<text class="yl" transform="translate(534.10 285.45) rotate(-90)" text-anchor="middle">AUC</text>
<text class="tt" x="605.70" y="218.30" text-anchor="middle">(average)</text>
<g class="frame">
<path d="M25.5 32.1H685" stroke="#b2b2b2" stroke-width="1.8" fill="none"/>
<path d="M26 31.5V376" stroke="#9a9a9a" stroke-width="1.7" fill="none"/>
<path d="M25.2 376.5H685" stroke="#8a8a8a" stroke-width="1.4" fill="none"/>
<path d="M684.2 33V376" stroke="#d8d8d8" stroke-width="1.2" fill="none"/>
<path d="M190.9 32V376" stroke="#a0a0a0" stroke-width="1.9" fill="none"/>
<path d="M355.5 32V376M520.5 32V376" stroke="#8c8c8c" stroke-width="1.6" fill="none"/>
<path d="M26 201.4H685" stroke="#777" stroke-width="1.5" fill="none"/>
</g>
<g class="ct">
<text x="108" y="15.9" text-anchor="middle">Stim</text>
<text x="272.5" y="15.9" text-anchor="middle">NoStim1</text>
<text x="437.5" y="15.9" text-anchor="middle">NoStim2</text>
<text x="602.5" y="15.9" text-anchor="middle">NoStim3</text>
<text transform="translate(16.6 117.1) rotate(-90)" text-anchor="middle" style="font-size:20.6px">Go</text>
<text transform="translate(16.6 289.3) rotate(-90)" text-anchor="middle" style="font-size:20.3px">NoGo</text>
</g>
</svg>
</body></html>
